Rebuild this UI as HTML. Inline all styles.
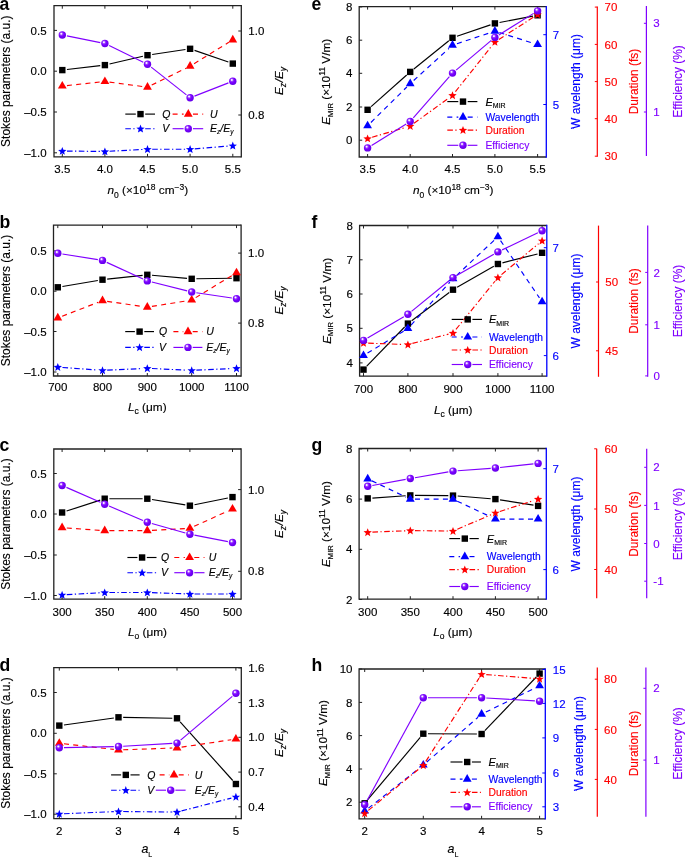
<!DOCTYPE html>
<html><head><meta charset="utf-8"><style>
html,body{margin:0;padding:0;background:#fff;}
svg{display:block;will-change:transform;}
</style></head><body>
<svg width="685" height="857" viewBox="0 0 685 857">
<defs><radialGradient id="sph" cx="0.4" cy="0.38" r="0.62" fx="0.36" fy="0.32"><stop offset="0" stop-color="#ffffff"/><stop offset="0.12" stop-color="#f4e8ff"/><stop offset="0.3" stop-color="#9a40ff"/><stop offset="0.55" stop-color="#7a00ff"/><stop offset="1" stop-color="#6400e8"/></radialGradient></defs>
<rect width="685" height="857" fill="#fff"/>
<g font-family='"Liberation Sans", sans-serif'>
<text x="-0.6" y="9.8" font-size="17.6" text-anchor="start" fill="#000" font-weight="bold">a</text>
<text x="-0.6" y="227.8" font-size="17.6" text-anchor="start" fill="#000" font-weight="bold">b</text>
<text x="-0.6" y="451.2" font-size="17.6" text-anchor="start" fill="#000" font-weight="bold">c</text>
<text x="-0.6" y="671.3" font-size="17.6" text-anchor="start" fill="#000" font-weight="bold">d</text>
<text x="311.4" y="9.8" font-size="17.6" text-anchor="start" fill="#000" font-weight="bold">e</text>
<text x="311.4" y="227.8" font-size="17.6" text-anchor="start" fill="#000" font-weight="bold">f</text>
<text x="311.4" y="451.2" font-size="17.6" text-anchor="start" fill="#000" font-weight="bold">g</text>
<text x="311.4" y="671.3" font-size="17.6" text-anchor="start" fill="#000" font-weight="bold">h</text>
<path d="M241.3,5.7 H54 V156.8 H241.3" fill="none" stroke="#222" stroke-width="1.3"/>
<line x1="241.3" y1="5.05" x2="241.3" y2="157.45" stroke="#222" stroke-width="1.3"/>
<line x1="62.3" y1="156.8" x2="62.3" y2="153.8" stroke="#222" stroke-width="1"/>
<line x1="62.3" y1="5.7" x2="62.3" y2="8.7" stroke="#222" stroke-width="1"/>
<text x="62.3" y="172.6" font-size="11.5" text-anchor="middle" fill="#000" stroke="#000" stroke-width="0.15">3.5</text>
<line x1="104.9" y1="156.8" x2="104.9" y2="153.8" stroke="#222" stroke-width="1"/>
<line x1="104.9" y1="5.7" x2="104.9" y2="8.7" stroke="#222" stroke-width="1"/>
<text x="104.9" y="172.6" font-size="11.5" text-anchor="middle" fill="#000" stroke="#000" stroke-width="0.15">4.0</text>
<line x1="147.5" y1="156.8" x2="147.5" y2="153.8" stroke="#222" stroke-width="1"/>
<line x1="147.5" y1="5.7" x2="147.5" y2="8.7" stroke="#222" stroke-width="1"/>
<text x="147.5" y="172.6" font-size="11.5" text-anchor="middle" fill="#000" stroke="#000" stroke-width="0.15">4.5</text>
<line x1="190.1" y1="156.8" x2="190.1" y2="153.8" stroke="#222" stroke-width="1"/>
<line x1="190.1" y1="5.7" x2="190.1" y2="8.7" stroke="#222" stroke-width="1"/>
<text x="190.1" y="172.6" font-size="11.5" text-anchor="middle" fill="#000" stroke="#000" stroke-width="0.15">5.0</text>
<line x1="232.8" y1="156.8" x2="232.8" y2="153.8" stroke="#222" stroke-width="1"/>
<line x1="232.8" y1="5.7" x2="232.8" y2="8.7" stroke="#222" stroke-width="1"/>
<text x="232.8" y="172.6" font-size="11.5" text-anchor="middle" fill="#000" stroke="#000" stroke-width="0.15">5.5</text>
<line x1="54" y1="30.4" x2="57" y2="30.4" stroke="#222" stroke-width="1"/>
<text x="46.6" y="34.5" font-size="11.5" text-anchor="end" fill="#000" stroke="#000" stroke-width="0.15">0.5</text>
<line x1="54" y1="71.2" x2="57" y2="71.2" stroke="#222" stroke-width="1"/>
<text x="46.6" y="75.3" font-size="11.5" text-anchor="end" fill="#000" stroke="#000" stroke-width="0.15">0.0</text>
<line x1="54" y1="112" x2="57" y2="112" stroke="#222" stroke-width="1"/>
<text x="46.6" y="116.1" font-size="11.5" text-anchor="end" fill="#000" stroke="#000" stroke-width="0.15">–0.5</text>
<line x1="54" y1="152.8" x2="57" y2="152.8" stroke="#222" stroke-width="1"/>
<text x="46.6" y="156.9" font-size="11.5" text-anchor="end" fill="#000" stroke="#000" stroke-width="0.15">–1.0</text>
<line x1="238.3" y1="31" x2="241.3" y2="31" stroke="#222" stroke-width="1"/>
<text x="248.3" y="35.1" font-size="11.5" text-anchor="start" fill="#000" stroke="#000" stroke-width="0.15">1.0</text>
<line x1="238.3" y1="115" x2="241.3" y2="115" stroke="#222" stroke-width="1"/>
<text x="248.3" y="119.1" font-size="11.5" text-anchor="start" fill="#000" stroke="#000" stroke-width="0.15">0.8</text>
<text x="10.1" y="81.2" font-size="11.95" text-anchor="middle" fill="#000" stroke="#000" stroke-width="0.15" transform="rotate(-90 10.1 81.2)">Stokes parameters (a.u.)</text>
<text stroke="#000" stroke-width="0.15" x="283.4" y="81" font-size="11.8" font-style="italic" text-anchor="middle" transform="rotate(-90 283.4 81)">E<tspan font-size="8.5" dy="2.6">z</tspan><tspan dx="0.7" dy="-2.6">/E</tspan><tspan font-size="8.5" dy="2.6">y</tspan></text>
<text stroke="#000" stroke-width="0.15" x="147.8" y="194.3" font-size="11.8" text-anchor="middle"><tspan font-style="italic">n</tspan><tspan font-size="8.5" dy="3.8">0</tspan><tspan dy="-3.8"> (×10</tspan><tspan font-size="8.5" dy="-4.8">18</tspan><tspan dy="4.8"> cm</tspan><tspan font-size="8.5" dy="-4.8">−3</tspan><tspan dy="4.8">)</tspan></text>
<line x1="66.97" y1="69.55" x2="100.23" y2="65.65" stroke="#000" stroke-width="1.15"/>
<line x1="109.48" y1="64.04" x2="142.92" y2="56.26" stroke="#000" stroke-width="1.15"/>
<line x1="152.15" y1="54.5" x2="185.45" y2="49.5" stroke="#000" stroke-width="1.15"/>
<line x1="194.54" y1="50.34" x2="228.36" y2="62.06" stroke="#000" stroke-width="1.15"/>
<line x1="66.97" y1="85.57" x2="100.23" y2="81.97" stroke="#ff0000" stroke-width="1.15" stroke-dasharray="5 4.3"/>
<line x1="109.56" y1="82.09" x2="142.84" y2="86.55" stroke="#ff0000" stroke-width="1.15" stroke-dasharray="5 4.3"/>
<line x1="151.72" y1="85.09" x2="185.88" y2="68.25" stroke="#ff0000" stroke-width="1.15" stroke-dasharray="5 4.3"/>
<line x1="194.1" y1="63.71" x2="228.8" y2="42.33" stroke="#ff0000" stroke-width="1.15" stroke-dasharray="5 4.3"/>
<line x1="67" y1="151.06" x2="100.2" y2="151.44" stroke="#0000ff" stroke-width="1.15" stroke-dasharray="5.6 2.4 1.3 2.5"/>
<line x1="109.59" y1="151.25" x2="142.81" y2="149.45" stroke="#0000ff" stroke-width="1.15" stroke-dasharray="5.6 2.4 1.3 2.5"/>
<line x1="152.2" y1="149.2" x2="185.4" y2="149.2" stroke="#0000ff" stroke-width="1.15" stroke-dasharray="5.6 2.4 1.3 2.5"/>
<line x1="194.78" y1="148.82" x2="228.12" y2="146.08" stroke="#0000ff" stroke-width="1.15" stroke-dasharray="5.6 2.4 1.3 2.5"/>
<line x1="66.91" y1="35.92" x2="100.29" y2="42.58" stroke="#8000ff" stroke-width="1.15"/>
<line x1="109.13" y1="45.55" x2="143.27" y2="62.15" stroke="#8000ff" stroke-width="1.15"/>
<line x1="151.19" y1="67.11" x2="186.41" y2="94.89" stroke="#8000ff" stroke-width="1.15"/>
<line x1="194.48" y1="96.1" x2="228.42" y2="82.9" stroke="#8000ff" stroke-width="1.15"/>
<rect x="59.1" y="66.9" width="6.4" height="6.4" fill="#000"/>
<rect x="101.7" y="61.9" width="6.4" height="6.4" fill="#000"/>
<rect x="144.3" y="52" width="6.4" height="6.4" fill="#000"/>
<rect x="186.9" y="45.6" width="6.4" height="6.4" fill="#000"/>
<rect x="229.6" y="60.4" width="6.4" height="6.4" fill="#000"/>
<polygon points="62.3,81 57.9,88.6 66.7,88.6" fill="#ff0000"/>
<polygon points="104.9,76.4 100.5,84 109.3,84" fill="#ff0000"/>
<polygon points="147.5,82.1 143.1,89.7 151.9,89.7" fill="#ff0000"/>
<polygon points="190.1,61.1 185.7,68.7 194.5,68.7" fill="#ff0000"/>
<polygon points="232.8,34.8 228.4,42.4 237.2,42.4" fill="#ff0000"/>
<polygon points="62.3,146.9 63.42,149.76 66.48,149.94 64.11,151.89 64.89,154.86 62.3,153.2 59.71,154.86 60.49,151.89 58.12,149.94 61.18,149.76" fill="#0000ff"/>
<polygon points="104.9,147.4 106.02,150.26 109.08,150.44 106.71,152.39 107.49,155.36 104.9,153.7 102.31,155.36 103.09,152.39 100.72,150.44 103.78,150.26" fill="#0000ff"/>
<polygon points="147.5,145.1 148.62,147.96 151.68,148.14 149.31,150.09 150.09,153.06 147.5,151.4 144.91,153.06 145.69,150.09 143.32,148.14 146.38,147.96" fill="#0000ff"/>
<polygon points="190.1,145.1 191.22,147.96 194.28,148.14 191.91,150.09 192.69,153.06 190.1,151.4 187.51,153.06 188.29,150.09 185.92,148.14 188.98,147.96" fill="#0000ff"/>
<polygon points="232.8,141.6 233.92,144.46 236.98,144.64 234.61,146.59 235.39,149.56 232.8,147.9 230.21,149.56 230.99,146.59 228.62,144.64 231.68,144.46" fill="#0000ff"/>
<circle cx="62.3" cy="35" r="3.7" fill="url(#sph)"/>
<circle cx="104.9" cy="43.5" r="3.7" fill="url(#sph)"/>
<circle cx="147.5" cy="64.2" r="3.7" fill="url(#sph)"/>
<circle cx="190.1" cy="97.8" r="3.7" fill="url(#sph)"/>
<circle cx="232.8" cy="81.2" r="3.7" fill="url(#sph)"/>
<line x1="125.3" y1="114.1" x2="135.8" y2="114.1" stroke="#000" stroke-width="1.15"/>
<line x1="145.2" y1="114.1" x2="155" y2="114.1" stroke="#000" stroke-width="1.15"/>
<rect x="137.3" y="110.9" width="6.4" height="6.4" fill="#000"/>
<text x="162.2" y="117.8" font-size="10.5" text-anchor="start" fill="#000" stroke="#000" stroke-width="0.15" font-style="italic">Q</text>
<line x1="125.3" y1="128.7" x2="135.8" y2="128.7" stroke="#0000ff" stroke-width="1.15" stroke-dasharray="5.6 2.4 1.3 2.5"/>
<line x1="145.2" y1="128.7" x2="155" y2="128.7" stroke="#0000ff" stroke-width="1.15" stroke-dasharray="5.6 2.4 1.3 2.5"/>
<polygon points="140.5,124.6 141.62,127.46 144.68,127.64 142.31,129.59 143.09,132.56 140.5,130.9 137.91,132.56 138.69,129.59 136.32,127.64 139.38,127.46" fill="#0000ff"/>
<text x="162.2" y="132.4" font-size="10.5" text-anchor="start" fill="#000" stroke="#000" stroke-width="0.15" font-style="italic">V</text>
<line x1="172.6" y1="114.1" x2="183.6" y2="114.1" stroke="#ff0000" stroke-width="1.15" stroke-dasharray="5 4.3"/>
<line x1="193" y1="114.1" x2="203.2" y2="114.1" stroke="#ff0000" stroke-width="1.15" stroke-dasharray="5 4.3"/>
<polygon points="188.3,109.03 183.9,116.63 192.7,116.63" fill="#ff0000"/>
<text x="210" y="117.8" font-size="10.5" text-anchor="start" fill="#000" stroke="#000" stroke-width="0.15" font-style="italic">U</text>
<line x1="172.6" y1="128.7" x2="183.6" y2="128.7" stroke="#8000ff" stroke-width="1.15"/>
<line x1="193" y1="128.7" x2="203.2" y2="128.7" stroke="#8000ff" stroke-width="1.15"/>
<circle cx="188.3" cy="128.7" r="3.7" fill="url(#sph)"/>
<text stroke="#000" stroke-width="0.15" x="210" y="132.4" font-size="10.5" font-style="italic">E<tspan font-size="6.5" dy="2">z</tspan><tspan dy="-2">/E</tspan><tspan font-size="6.5" dy="2">y</tspan></text>
<path d="M241.1,225.1 H53.5 V376 H241.1" fill="none" stroke="#222" stroke-width="1.3"/>
<line x1="241.1" y1="224.45" x2="241.1" y2="376.65" stroke="#222" stroke-width="1.3"/>
<line x1="57.8" y1="376" x2="57.8" y2="373" stroke="#222" stroke-width="1"/>
<line x1="57.8" y1="225.1" x2="57.8" y2="228.1" stroke="#222" stroke-width="1"/>
<text x="57.8" y="391.3" font-size="11.5" text-anchor="middle" fill="#000" stroke="#000" stroke-width="0.15">700</text>
<line x1="102.5" y1="376" x2="102.5" y2="373" stroke="#222" stroke-width="1"/>
<line x1="102.5" y1="225.1" x2="102.5" y2="228.1" stroke="#222" stroke-width="1"/>
<text x="102.5" y="391.3" font-size="11.5" text-anchor="middle" fill="#000" stroke="#000" stroke-width="0.15">800</text>
<line x1="147.3" y1="376" x2="147.3" y2="373" stroke="#222" stroke-width="1"/>
<line x1="147.3" y1="225.1" x2="147.3" y2="228.1" stroke="#222" stroke-width="1"/>
<text x="147.3" y="391.3" font-size="11.5" text-anchor="middle" fill="#000" stroke="#000" stroke-width="0.15">900</text>
<line x1="191.7" y1="376" x2="191.7" y2="373" stroke="#222" stroke-width="1"/>
<line x1="191.7" y1="225.1" x2="191.7" y2="228.1" stroke="#222" stroke-width="1"/>
<text x="191.7" y="391.3" font-size="11.5" text-anchor="middle" fill="#000" stroke="#000" stroke-width="0.15">1000</text>
<line x1="236.5" y1="376" x2="236.5" y2="373" stroke="#222" stroke-width="1"/>
<line x1="236.5" y1="225.1" x2="236.5" y2="228.1" stroke="#222" stroke-width="1"/>
<text x="236.5" y="391.3" font-size="11.5" text-anchor="middle" fill="#000" stroke="#000" stroke-width="0.15">1100</text>
<line x1="53.5" y1="250.9" x2="56.5" y2="250.9" stroke="#222" stroke-width="1"/>
<text x="46.6" y="255" font-size="11.5" text-anchor="end" fill="#000" stroke="#000" stroke-width="0.15">0.5</text>
<line x1="53.5" y1="291.2" x2="56.5" y2="291.2" stroke="#222" stroke-width="1"/>
<text x="46.6" y="295.3" font-size="11.5" text-anchor="end" fill="#000" stroke="#000" stroke-width="0.15">0.0</text>
<line x1="53.5" y1="331.5" x2="56.5" y2="331.5" stroke="#222" stroke-width="1"/>
<text x="46.6" y="335.6" font-size="11.5" text-anchor="end" fill="#000" stroke="#000" stroke-width="0.15">–0.5</text>
<line x1="53.5" y1="372" x2="56.5" y2="372" stroke="#222" stroke-width="1"/>
<text x="46.6" y="376.1" font-size="11.5" text-anchor="end" fill="#000" stroke="#000" stroke-width="0.15">–1.0</text>
<line x1="238.1" y1="253.1" x2="241.1" y2="253.1" stroke="#222" stroke-width="1"/>
<text x="248.1" y="257.2" font-size="11.5" text-anchor="start" fill="#000" stroke="#000" stroke-width="0.15">1.0</text>
<line x1="238.1" y1="323.1" x2="241.1" y2="323.1" stroke="#222" stroke-width="1"/>
<text x="248.1" y="327.2" font-size="11.5" text-anchor="start" fill="#000" stroke="#000" stroke-width="0.15">0.8</text>
<text x="10.1" y="300.5" font-size="11.95" text-anchor="middle" fill="#000" stroke="#000" stroke-width="0.15" transform="rotate(-90 10.1 300.5)">Stokes parameters (a.u.)</text>
<text stroke="#000" stroke-width="0.15" x="283.4" y="300.5" font-size="11.8" font-style="italic" text-anchor="middle" transform="rotate(-90 283.4 300.5)">E<tspan font-size="8.5" dy="2.6">z</tspan><tspan dx="0.7" dy="-2.6">/E</tspan><tspan font-size="8.5" dy="2.6">y</tspan></text>
<text stroke="#000" stroke-width="0.15" x="147.3" y="410.9" font-size="11.8" text-anchor="middle"><tspan font-style="italic">L</tspan><tspan font-size="8.5" dy="3.3">c</tspan><tspan dy="-3.3"> (μm)</tspan></text>
<line x1="62.43" y1="286.51" x2="97.87" y2="280.49" stroke="#000" stroke-width="1.15"/>
<line x1="107.17" y1="279.19" x2="142.63" y2="275.31" stroke="#000" stroke-width="1.15"/>
<line x1="151.98" y1="275.22" x2="187.02" y2="278.38" stroke="#000" stroke-width="1.15"/>
<line x1="196.4" y1="278.74" x2="231.8" y2="278.26" stroke="#000" stroke-width="1.15"/>
<line x1="62.19" y1="316.18" x2="98.11" y2="302.36" stroke="#ff0000" stroke-width="1.15" stroke-dasharray="5 4.3"/>
<line x1="107.15" y1="301.34" x2="142.65" y2="306.5" stroke="#ff0000" stroke-width="1.15" stroke-dasharray="5 4.3"/>
<line x1="151.94" y1="306.43" x2="187.06" y2="300.81" stroke="#ff0000" stroke-width="1.15" stroke-dasharray="5 4.3"/>
<line x1="195.71" y1="297.62" x2="232.49" y2="275.22" stroke="#ff0000" stroke-width="1.15" stroke-dasharray="5 4.3"/>
<line x1="62.49" y1="367.45" x2="97.81" y2="370.05" stroke="#0000ff" stroke-width="1.15" stroke-dasharray="5.6 2.4 1.3 2.5"/>
<line x1="107.19" y1="370.18" x2="142.61" y2="368.52" stroke="#0000ff" stroke-width="1.15" stroke-dasharray="5.6 2.4 1.3 2.5"/>
<line x1="151.99" y1="368.52" x2="187.01" y2="370.18" stroke="#0000ff" stroke-width="1.15" stroke-dasharray="5.6 2.4 1.3 2.5"/>
<line x1="196.39" y1="370.18" x2="231.81" y2="368.52" stroke="#0000ff" stroke-width="1.15" stroke-dasharray="5.6 2.4 1.3 2.5"/>
<line x1="62.44" y1="254.04" x2="97.86" y2="259.66" stroke="#8000ff" stroke-width="1.15"/>
<line x1="106.77" y1="262.36" x2="143.03" y2="278.94" stroke="#8000ff" stroke-width="1.15"/>
<line x1="151.86" y1="282.04" x2="187.14" y2="290.86" stroke="#8000ff" stroke-width="1.15"/>
<line x1="196.35" y1="292.7" x2="231.85" y2="298" stroke="#8000ff" stroke-width="1.15"/>
<rect x="54.6" y="284.1" width="6.4" height="6.4" fill="#000"/>
<rect x="99.3" y="276.5" width="6.4" height="6.4" fill="#000"/>
<rect x="144.1" y="271.6" width="6.4" height="6.4" fill="#000"/>
<rect x="188.5" y="275.6" width="6.4" height="6.4" fill="#000"/>
<rect x="233.3" y="275" width="6.4" height="6.4" fill="#000"/>
<polygon points="57.8,312.8 53.4,320.4 62.2,320.4" fill="#ff0000"/>
<polygon points="102.5,295.6 98.1,303.2 106.9,303.2" fill="#ff0000"/>
<polygon points="147.3,302.1 142.9,309.7 151.7,309.7" fill="#ff0000"/>
<polygon points="191.7,295 187.3,302.6 196.1,302.6" fill="#ff0000"/>
<polygon points="236.5,267.7 232.1,275.3 240.9,275.3" fill="#ff0000"/>
<polygon points="57.8,363 58.92,365.86 61.98,366.04 59.61,367.99 60.39,370.96 57.8,369.3 55.21,370.96 55.99,367.99 53.62,366.04 56.68,365.86" fill="#0000ff"/>
<polygon points="102.5,366.3 103.62,369.16 106.68,369.34 104.31,371.29 105.09,374.26 102.5,372.6 99.91,374.26 100.69,371.29 98.32,369.34 101.38,369.16" fill="#0000ff"/>
<polygon points="147.3,364.2 148.42,367.06 151.48,367.24 149.11,369.19 149.89,372.16 147.3,370.5 144.71,372.16 145.49,369.19 143.12,367.24 146.18,367.06" fill="#0000ff"/>
<polygon points="191.7,366.3 192.82,369.16 195.88,369.34 193.51,371.29 194.29,374.26 191.7,372.6 189.11,374.26 189.89,371.29 187.52,369.34 190.58,369.16" fill="#0000ff"/>
<polygon points="236.5,364.2 237.62,367.06 240.68,367.24 238.31,369.19 239.09,372.16 236.5,370.5 233.91,372.16 234.69,369.19 232.32,367.24 235.38,367.06" fill="#0000ff"/>
<circle cx="57.8" cy="253.3" r="3.7" fill="url(#sph)"/>
<circle cx="102.5" cy="260.4" r="3.7" fill="url(#sph)"/>
<circle cx="147.3" cy="280.9" r="3.7" fill="url(#sph)"/>
<circle cx="191.7" cy="292" r="3.7" fill="url(#sph)"/>
<circle cx="236.5" cy="298.7" r="3.7" fill="url(#sph)"/>
<line x1="125.2" y1="331.6" x2="134.9" y2="331.6" stroke="#000" stroke-width="1.15"/>
<line x1="144.3" y1="331.6" x2="154" y2="331.6" stroke="#000" stroke-width="1.15"/>
<rect x="136.4" y="328.4" width="6.4" height="6.4" fill="#000"/>
<text x="159" y="335.3" font-size="10.5" text-anchor="start" fill="#000" stroke="#000" stroke-width="0.15" font-style="italic">Q</text>
<line x1="125.2" y1="347.4" x2="134.9" y2="347.4" stroke="#0000ff" stroke-width="1.15" stroke-dasharray="5.6 2.4 1.3 2.5"/>
<line x1="144.3" y1="347.4" x2="154" y2="347.4" stroke="#0000ff" stroke-width="1.15" stroke-dasharray="5.6 2.4 1.3 2.5"/>
<polygon points="139.6,343.3 140.72,346.16 143.78,346.34 141.41,348.29 142.19,351.26 139.6,349.6 137.01,351.26 137.79,348.29 135.42,346.34 138.48,346.16" fill="#0000ff"/>
<text x="159" y="351.1" font-size="10.5" text-anchor="start" fill="#000" stroke="#000" stroke-width="0.15" font-style="italic">V</text>
<line x1="173.4" y1="331.6" x2="183.3" y2="331.6" stroke="#ff0000" stroke-width="1.15" stroke-dasharray="5 4.3"/>
<line x1="192.7" y1="331.6" x2="202.4" y2="331.6" stroke="#ff0000" stroke-width="1.15" stroke-dasharray="5 4.3"/>
<polygon points="188,326.53 183.6,334.13 192.4,334.13" fill="#ff0000"/>
<text x="206.3" y="335.3" font-size="10.5" text-anchor="start" fill="#000" stroke="#000" stroke-width="0.15" font-style="italic">U</text>
<line x1="173.4" y1="347.4" x2="183.3" y2="347.4" stroke="#8000ff" stroke-width="1.15"/>
<line x1="192.7" y1="347.4" x2="202.4" y2="347.4" stroke="#8000ff" stroke-width="1.15"/>
<circle cx="188" cy="347.4" r="3.7" fill="url(#sph)"/>
<text stroke="#000" stroke-width="0.15" x="206.3" y="351.1" font-size="10.5" font-style="italic">E<tspan font-size="6.5" dy="2">z</tspan><tspan dy="-2">/E</tspan><tspan font-size="6.5" dy="2">y</tspan></text>
<path d="M241.1,449 H53.8 V599.2 H241.1" fill="none" stroke="#222" stroke-width="1.3"/>
<line x1="241.1" y1="448.35" x2="241.1" y2="599.85" stroke="#222" stroke-width="1.3"/>
<line x1="62.1" y1="599.2" x2="62.1" y2="596.2" stroke="#222" stroke-width="1"/>
<line x1="62.1" y1="449" x2="62.1" y2="452" stroke="#222" stroke-width="1"/>
<text x="62.1" y="616.2" font-size="11.5" text-anchor="middle" fill="#000" stroke="#000" stroke-width="0.15">300</text>
<line x1="104.7" y1="599.2" x2="104.7" y2="596.2" stroke="#222" stroke-width="1"/>
<line x1="104.7" y1="449" x2="104.7" y2="452" stroke="#222" stroke-width="1"/>
<text x="104.7" y="616.2" font-size="11.5" text-anchor="middle" fill="#000" stroke="#000" stroke-width="0.15">350</text>
<line x1="147.3" y1="599.2" x2="147.3" y2="596.2" stroke="#222" stroke-width="1"/>
<line x1="147.3" y1="449" x2="147.3" y2="452" stroke="#222" stroke-width="1"/>
<text x="147.3" y="616.2" font-size="11.5" text-anchor="middle" fill="#000" stroke="#000" stroke-width="0.15">400</text>
<line x1="189.9" y1="599.2" x2="189.9" y2="596.2" stroke="#222" stroke-width="1"/>
<line x1="189.9" y1="449" x2="189.9" y2="452" stroke="#222" stroke-width="1"/>
<text x="189.9" y="616.2" font-size="11.5" text-anchor="middle" fill="#000" stroke="#000" stroke-width="0.15">450</text>
<line x1="232.5" y1="599.2" x2="232.5" y2="596.2" stroke="#222" stroke-width="1"/>
<line x1="232.5" y1="449" x2="232.5" y2="452" stroke="#222" stroke-width="1"/>
<text x="232.5" y="616.2" font-size="11.5" text-anchor="middle" fill="#000" stroke="#000" stroke-width="0.15">500</text>
<line x1="53.8" y1="473.5" x2="56.8" y2="473.5" stroke="#222" stroke-width="1"/>
<text x="46.6" y="477.6" font-size="11.5" text-anchor="end" fill="#000" stroke="#000" stroke-width="0.15">0.5</text>
<line x1="53.8" y1="514" x2="56.8" y2="514" stroke="#222" stroke-width="1"/>
<text x="46.6" y="518.1" font-size="11.5" text-anchor="end" fill="#000" stroke="#000" stroke-width="0.15">0.0</text>
<line x1="53.8" y1="555" x2="56.8" y2="555" stroke="#222" stroke-width="1"/>
<text x="46.6" y="559.1" font-size="11.5" text-anchor="end" fill="#000" stroke="#000" stroke-width="0.15">–0.5</text>
<line x1="53.8" y1="595.5" x2="56.8" y2="595.5" stroke="#222" stroke-width="1"/>
<text x="46.6" y="599.6" font-size="11.5" text-anchor="end" fill="#000" stroke="#000" stroke-width="0.15">–1.0</text>
<line x1="238.1" y1="489.6" x2="241.1" y2="489.6" stroke="#222" stroke-width="1"/>
<text x="248.1" y="493.7" font-size="11.5" text-anchor="start" fill="#000" stroke="#000" stroke-width="0.15">1.0</text>
<line x1="238.1" y1="571.3" x2="241.1" y2="571.3" stroke="#222" stroke-width="1"/>
<text x="248.1" y="575.4" font-size="11.5" text-anchor="start" fill="#000" stroke="#000" stroke-width="0.15">0.8</text>
<text x="10.1" y="524" font-size="11.95" text-anchor="middle" fill="#000" stroke="#000" stroke-width="0.15" transform="rotate(-90 10.1 524)">Stokes parameters (a.u.)</text>
<text stroke="#000" stroke-width="0.15" x="283.4" y="524" font-size="11.8" font-style="italic" text-anchor="middle" transform="rotate(-90 283.4 524)">E<tspan font-size="8.5" dy="2.6">z</tspan><tspan dx="0.7" dy="-2.6">/E</tspan><tspan font-size="8.5" dy="2.6">y</tspan></text>
<text stroke="#000" stroke-width="0.15" x="147.5" y="636" font-size="11.8" text-anchor="middle"><tspan font-style="italic">L</tspan><tspan font-size="8.5" dy="3.3">o</tspan><tspan dy="-3.3"> (μm)</tspan></text>
<line x1="66.57" y1="511.05" x2="100.23" y2="500.15" stroke="#000" stroke-width="1.15"/>
<line x1="109.4" y1="498.7" x2="142.6" y2="498.7" stroke="#000" stroke-width="1.15"/>
<line x1="151.94" y1="499.46" x2="185.26" y2="504.94" stroke="#000" stroke-width="1.15"/>
<line x1="194.51" y1="504.77" x2="227.89" y2="498.03" stroke="#000" stroke-width="1.15"/>
<line x1="66.79" y1="528" x2="100.01" y2="530.34" stroke="#ff0000" stroke-width="1.15" stroke-dasharray="5 4.3"/>
<line x1="109.4" y1="530.67" x2="142.6" y2="530.67" stroke="#ff0000" stroke-width="1.15" stroke-dasharray="5 4.3"/>
<line x1="151.99" y1="530.41" x2="185.21" y2="528.53" stroke="#ff0000" stroke-width="1.15" stroke-dasharray="5 4.3"/>
<line x1="194.18" y1="526.33" x2="228.22" y2="510.91" stroke="#ff0000" stroke-width="1.15" stroke-dasharray="5 4.3"/>
<line x1="66.79" y1="594.64" x2="100.01" y2="592.76" stroke="#0000ff" stroke-width="1.15" stroke-dasharray="5.6 2.4 1.3 2.5"/>
<line x1="109.4" y1="592.5" x2="142.6" y2="592.5" stroke="#0000ff" stroke-width="1.15" stroke-dasharray="5.6 2.4 1.3 2.5"/>
<line x1="152" y1="592.67" x2="185.2" y2="593.83" stroke="#0000ff" stroke-width="1.15" stroke-dasharray="5.6 2.4 1.3 2.5"/>
<line x1="194.6" y1="594" x2="227.8" y2="594" stroke="#0000ff" stroke-width="1.15" stroke-dasharray="5.6 2.4 1.3 2.5"/>
<line x1="66.4" y1="487.39" x2="100.4" y2="502.31" stroke="#8000ff" stroke-width="1.15"/>
<line x1="109.03" y1="506.04" x2="142.97" y2="520.46" stroke="#8000ff" stroke-width="1.15"/>
<line x1="151.83" y1="523.56" x2="185.37" y2="532.94" stroke="#8000ff" stroke-width="1.15"/>
<line x1="194.51" y1="535.1" x2="227.89" y2="541.6" stroke="#8000ff" stroke-width="1.15"/>
<rect x="58.9" y="509.3" width="6.4" height="6.4" fill="#000"/>
<rect x="101.5" y="495.5" width="6.4" height="6.4" fill="#000"/>
<rect x="144.1" y="495.5" width="6.4" height="6.4" fill="#000"/>
<rect x="186.7" y="502.5" width="6.4" height="6.4" fill="#000"/>
<rect x="229.3" y="493.9" width="6.4" height="6.4" fill="#000"/>
<polygon points="62.1,522.6 57.7,530.2 66.5,530.2" fill="#ff0000"/>
<polygon points="104.7,525.6 100.3,533.2 109.1,533.2" fill="#ff0000"/>
<polygon points="147.3,525.6 142.9,533.2 151.7,533.2" fill="#ff0000"/>
<polygon points="189.9,523.2 185.5,530.8 194.3,530.8" fill="#ff0000"/>
<polygon points="232.5,503.9 228.1,511.5 236.9,511.5" fill="#ff0000"/>
<polygon points="62.1,590.8 63.22,593.66 66.28,593.84 63.91,595.79 64.69,598.76 62.1,597.1 59.51,598.76 60.29,595.79 57.92,593.84 60.98,593.66" fill="#0000ff"/>
<polygon points="104.7,588.4 105.82,591.26 108.88,591.44 106.51,593.39 107.29,596.36 104.7,594.7 102.11,596.36 102.89,593.39 100.52,591.44 103.58,591.26" fill="#0000ff"/>
<polygon points="147.3,588.4 148.42,591.26 151.48,591.44 149.11,593.39 149.89,596.36 147.3,594.7 144.71,596.36 145.49,593.39 143.12,591.44 146.18,591.26" fill="#0000ff"/>
<polygon points="189.9,589.9 191.02,592.76 194.08,592.94 191.71,594.89 192.49,597.86 189.9,596.2 187.31,597.86 188.09,594.89 185.72,592.94 188.78,592.76" fill="#0000ff"/>
<polygon points="232.5,589.9 233.62,592.76 236.68,592.94 234.31,594.89 235.09,597.86 232.5,596.2 229.91,597.86 230.69,594.89 228.32,592.94 231.38,592.76" fill="#0000ff"/>
<circle cx="62.1" cy="485.5" r="3.7" fill="url(#sph)"/>
<circle cx="104.7" cy="504.2" r="3.7" fill="url(#sph)"/>
<circle cx="147.3" cy="522.3" r="3.7" fill="url(#sph)"/>
<circle cx="189.9" cy="534.2" r="3.7" fill="url(#sph)"/>
<circle cx="232.5" cy="542.5" r="3.7" fill="url(#sph)"/>
<line x1="127.4" y1="557.5" x2="137.4" y2="557.5" stroke="#000" stroke-width="1.15"/>
<line x1="146.8" y1="557.5" x2="156.5" y2="557.5" stroke="#000" stroke-width="1.15"/>
<rect x="138.9" y="554.3" width="6.4" height="6.4" fill="#000"/>
<text x="161" y="561.2" font-size="10.5" text-anchor="start" fill="#000" stroke="#000" stroke-width="0.15" font-style="italic">Q</text>
<line x1="127.4" y1="572.7" x2="137.4" y2="572.7" stroke="#0000ff" stroke-width="1.15" stroke-dasharray="5.6 2.4 1.3 2.5"/>
<line x1="146.8" y1="572.7" x2="156.5" y2="572.7" stroke="#0000ff" stroke-width="1.15" stroke-dasharray="5.6 2.4 1.3 2.5"/>
<polygon points="142.1,568.6 143.22,571.46 146.28,571.64 143.91,573.59 144.69,576.56 142.1,574.9 139.51,576.56 140.29,573.59 137.92,571.64 140.98,571.46" fill="#0000ff"/>
<text x="161" y="576.4" font-size="10.5" text-anchor="start" fill="#000" stroke="#000" stroke-width="0.15" font-style="italic">V</text>
<line x1="174.3" y1="557.5" x2="184.9" y2="557.5" stroke="#ff0000" stroke-width="1.15" stroke-dasharray="5 4.3"/>
<line x1="194.3" y1="557.5" x2="204.5" y2="557.5" stroke="#ff0000" stroke-width="1.15" stroke-dasharray="5 4.3"/>
<polygon points="189.6,552.43 185.2,560.03 194,560.03" fill="#ff0000"/>
<text x="208.8" y="561.2" font-size="10.5" text-anchor="start" fill="#000" stroke="#000" stroke-width="0.15" font-style="italic">U</text>
<line x1="174.3" y1="572.7" x2="184.9" y2="572.7" stroke="#8000ff" stroke-width="1.15"/>
<line x1="194.3" y1="572.7" x2="204.5" y2="572.7" stroke="#8000ff" stroke-width="1.15"/>
<circle cx="189.6" cy="572.7" r="3.7" fill="url(#sph)"/>
<text stroke="#000" stroke-width="0.15" x="208.8" y="576.4" font-size="10.5" font-style="italic">E<tspan font-size="6.5" dy="2">z</tspan><tspan dy="-2">/E</tspan><tspan font-size="6.5" dy="2">y</tspan></text>
<path d="M241.3,667.6 H53.8 V818.6 H241.3" fill="none" stroke="#222" stroke-width="1.3"/>
<line x1="241.3" y1="666.95" x2="241.3" y2="819.25" stroke="#222" stroke-width="1.3"/>
<line x1="59.3" y1="818.6" x2="59.3" y2="815.6" stroke="#222" stroke-width="1"/>
<line x1="59.3" y1="667.6" x2="59.3" y2="670.6" stroke="#222" stroke-width="1"/>
<text x="59.3" y="835" font-size="11.5" text-anchor="middle" fill="#000" stroke="#000" stroke-width="0.15">2</text>
<line x1="118.5" y1="818.6" x2="118.5" y2="815.6" stroke="#222" stroke-width="1"/>
<line x1="118.5" y1="667.6" x2="118.5" y2="670.6" stroke="#222" stroke-width="1"/>
<text x="118.5" y="835" font-size="11.5" text-anchor="middle" fill="#000" stroke="#000" stroke-width="0.15">3</text>
<line x1="177" y1="818.6" x2="177" y2="815.6" stroke="#222" stroke-width="1"/>
<line x1="177" y1="667.6" x2="177" y2="670.6" stroke="#222" stroke-width="1"/>
<text x="177" y="835" font-size="11.5" text-anchor="middle" fill="#000" stroke="#000" stroke-width="0.15">4</text>
<line x1="235.9" y1="818.6" x2="235.9" y2="815.6" stroke="#222" stroke-width="1"/>
<line x1="235.9" y1="667.6" x2="235.9" y2="670.6" stroke="#222" stroke-width="1"/>
<text x="235.9" y="835" font-size="11.5" text-anchor="middle" fill="#000" stroke="#000" stroke-width="0.15">5</text>
<line x1="53.8" y1="692.5" x2="56.8" y2="692.5" stroke="#222" stroke-width="1"/>
<text x="46.6" y="696.6" font-size="11.5" text-anchor="end" fill="#000" stroke="#000" stroke-width="0.15">0.5</text>
<line x1="53.8" y1="733.3" x2="56.8" y2="733.3" stroke="#222" stroke-width="1"/>
<text x="46.6" y="737.4" font-size="11.5" text-anchor="end" fill="#000" stroke="#000" stroke-width="0.15">0.0</text>
<line x1="53.8" y1="773.8" x2="56.8" y2="773.8" stroke="#222" stroke-width="1"/>
<text x="46.6" y="777.9" font-size="11.5" text-anchor="end" fill="#000" stroke="#000" stroke-width="0.15">–0.5</text>
<line x1="53.8" y1="814.2" x2="56.8" y2="814.2" stroke="#222" stroke-width="1"/>
<text x="46.6" y="818.3" font-size="11.5" text-anchor="end" fill="#000" stroke="#000" stroke-width="0.15">–1.0</text>
<line x1="238.3" y1="667.9" x2="241.3" y2="667.9" stroke="#222" stroke-width="1"/>
<text x="248.3" y="672" font-size="11.5" text-anchor="start" fill="#000" stroke="#000" stroke-width="0.15">1.6</text>
<line x1="238.3" y1="702.6" x2="241.3" y2="702.6" stroke="#222" stroke-width="1"/>
<text x="248.3" y="706.7" font-size="11.5" text-anchor="start" fill="#000" stroke="#000" stroke-width="0.15">1.3</text>
<line x1="238.3" y1="737.3" x2="241.3" y2="737.3" stroke="#222" stroke-width="1"/>
<text x="248.3" y="741.4" font-size="11.5" text-anchor="start" fill="#000" stroke="#000" stroke-width="0.15">1.0</text>
<line x1="238.3" y1="772.1" x2="241.3" y2="772.1" stroke="#222" stroke-width="1"/>
<text x="248.3" y="776.2" font-size="11.5" text-anchor="start" fill="#000" stroke="#000" stroke-width="0.15">0.7</text>
<line x1="238.3" y1="806.8" x2="241.3" y2="806.8" stroke="#222" stroke-width="1"/>
<text x="248.3" y="810.9" font-size="11.5" text-anchor="start" fill="#000" stroke="#000" stroke-width="0.15">0.4</text>
<text x="10.1" y="743" font-size="11.95" text-anchor="middle" fill="#000" stroke="#000" stroke-width="0.15" transform="rotate(-90 10.1 743)">Stokes parameters (a.u.)</text>
<text stroke="#000" stroke-width="0.15" x="283.4" y="743" font-size="11.8" font-style="italic" text-anchor="middle" transform="rotate(-90 283.4 743)">E<tspan font-size="8.5" dy="2.6">z</tspan><tspan dx="0.7" dy="-2.6">/E</tspan><tspan font-size="8.5" dy="2.6">y</tspan></text>
<text stroke="#000" stroke-width="0.15" x="146.8" y="852.8" font-size="11.8" text-anchor="middle"><tspan font-style="italic" font-size="12.4">a</tspan><tspan font-size="7" dy="4.3">L</tspan></text>
<line x1="63.95" y1="724.95" x2="113.85" y2="717.95" stroke="#000" stroke-width="1.15"/>
<line x1="123.2" y1="717.38" x2="172.3" y2="718.22" stroke="#000" stroke-width="1.15"/>
<line x1="180.14" y1="721.8" x2="232.76" y2="780.5" stroke="#000" stroke-width="1.15"/>
<line x1="63.97" y1="743.8" x2="113.83" y2="749.44" stroke="#ff0000" stroke-width="1.15" stroke-dasharray="5 4.3"/>
<line x1="123.2" y1="749.8" x2="172.3" y2="748.04" stroke="#ff0000" stroke-width="1.15" stroke-dasharray="5 4.3"/>
<line x1="181.65" y1="747.18" x2="231.25" y2="739.76" stroke="#ff0000" stroke-width="1.15" stroke-dasharray="5 4.3"/>
<line x1="64" y1="813.71" x2="113.8" y2="811.69" stroke="#0000ff" stroke-width="1.15" stroke-dasharray="5.6 2.4 1.3 2.5"/>
<line x1="123.2" y1="811.55" x2="172.3" y2="812.05" stroke="#0000ff" stroke-width="1.15" stroke-dasharray="5.6 2.4 1.3 2.5"/>
<line x1="181.55" y1="810.93" x2="231.35" y2="798.07" stroke="#0000ff" stroke-width="1.15" stroke-dasharray="5.6 2.4 1.3 2.5"/>
<line x1="64" y1="747.6" x2="113.8" y2="746.6" stroke="#8000ff" stroke-width="1.15"/>
<line x1="123.19" y1="746.23" x2="172.31" y2="743.37" stroke="#8000ff" stroke-width="1.15"/>
<line x1="180.59" y1="740.07" x2="232.31" y2="696.33" stroke="#8000ff" stroke-width="1.15"/>
<rect x="56.1" y="722.4" width="6.4" height="6.4" fill="#000"/>
<rect x="115.3" y="714.1" width="6.4" height="6.4" fill="#000"/>
<rect x="173.8" y="715.1" width="6.4" height="6.4" fill="#000"/>
<rect x="232.7" y="780.8" width="6.4" height="6.4" fill="#000"/>
<polygon points="59.3,738.2 54.9,745.8 63.7,745.8" fill="#ff0000"/>
<polygon points="118.5,744.9 114.1,752.5 122.9,752.5" fill="#ff0000"/>
<polygon points="177,742.8 172.6,750.4 181.4,750.4" fill="#ff0000"/>
<polygon points="235.9,734 231.5,741.6 240.3,741.6" fill="#ff0000"/>
<polygon points="59.3,809.8 60.42,812.66 63.48,812.84 61.11,814.79 61.89,817.76 59.3,816.1 56.71,817.76 57.49,814.79 55.12,812.84 58.18,812.66" fill="#0000ff"/>
<polygon points="118.5,807.4 119.62,810.26 122.68,810.44 120.31,812.39 121.09,815.36 118.5,813.7 115.91,815.36 116.69,812.39 114.32,810.44 117.38,810.26" fill="#0000ff"/>
<polygon points="177,808 178.12,810.86 181.18,811.04 178.81,812.99 179.59,815.96 177,814.3 174.41,815.96 175.19,812.99 172.82,811.04 175.88,810.86" fill="#0000ff"/>
<polygon points="235.9,792.8 237.02,795.66 240.08,795.84 237.71,797.79 238.49,800.76 235.9,799.1 233.31,800.76 234.09,797.79 231.72,795.84 234.78,795.66" fill="#0000ff"/>
<circle cx="59.3" cy="747.7" r="3.7" fill="url(#sph)"/>
<circle cx="118.5" cy="746.5" r="3.7" fill="url(#sph)"/>
<circle cx="177" cy="743.1" r="3.7" fill="url(#sph)"/>
<circle cx="235.9" cy="693.3" r="3.7" fill="url(#sph)"/>
<line x1="111.1" y1="774.9" x2="121.1" y2="774.9" stroke="#000" stroke-width="1.15"/>
<line x1="130.5" y1="774.9" x2="139.6" y2="774.9" stroke="#000" stroke-width="1.15"/>
<rect x="122.6" y="771.7" width="6.4" height="6.4" fill="#000"/>
<text x="147.3" y="778.6" font-size="10.5" text-anchor="start" fill="#000" stroke="#000" stroke-width="0.15" font-style="italic">Q</text>
<line x1="111.1" y1="790.2" x2="121.1" y2="790.2" stroke="#0000ff" stroke-width="1.15" stroke-dasharray="5.6 2.4 1.3 2.5"/>
<line x1="130.5" y1="790.2" x2="139.6" y2="790.2" stroke="#0000ff" stroke-width="1.15" stroke-dasharray="5.6 2.4 1.3 2.5"/>
<polygon points="125.8,786.1 126.92,788.96 129.98,789.14 127.61,791.09 128.39,794.06 125.8,792.4 123.21,794.06 123.99,791.09 121.62,789.14 124.68,788.96" fill="#0000ff"/>
<text x="147.3" y="793.9" font-size="10.5" text-anchor="start" fill="#000" stroke="#000" stroke-width="0.15" font-style="italic">V</text>
<line x1="159.6" y1="774.9" x2="169.3" y2="774.9" stroke="#ff0000" stroke-width="1.15" stroke-dasharray="5 4.3"/>
<line x1="178.7" y1="774.9" x2="188.7" y2="774.9" stroke="#ff0000" stroke-width="1.15" stroke-dasharray="5 4.3"/>
<polygon points="174,769.83 169.6,777.43 178.4,777.43" fill="#ff0000"/>
<text x="194.8" y="778.6" font-size="10.5" text-anchor="start" fill="#000" stroke="#000" stroke-width="0.15" font-style="italic">U</text>
<line x1="155.8" y1="790.2" x2="166" y2="790.2" stroke="#8000ff" stroke-width="1.15"/>
<line x1="175.4" y1="790.2" x2="185.6" y2="790.2" stroke="#8000ff" stroke-width="1.15"/>
<circle cx="170.7" cy="790.2" r="3.7" fill="url(#sph)"/>
<text stroke="#000" stroke-width="0.15" x="194.8" y="793.9" font-size="10.5" font-style="italic">E<tspan font-size="6.5" dy="2">z</tspan><tspan dy="-2">/E</tspan><tspan font-size="6.5" dy="2">y</tspan></text>
<path d="M546.3,6.6 H359.2 V157 H546.3" fill="none" stroke="#222" stroke-width="1.3"/>
<line x1="546.3" y1="5.95" x2="546.3" y2="157.65" stroke="#0000ff" stroke-width="1.3"/>
<line x1="367.6" y1="157" x2="367.6" y2="154" stroke="#222" stroke-width="1"/>
<line x1="367.6" y1="6.6" x2="367.6" y2="9.6" stroke="#222" stroke-width="1"/>
<text x="367.6" y="172.9" font-size="11.5" text-anchor="middle" fill="#000" stroke="#000" stroke-width="0.15">3.5</text>
<line x1="410.2" y1="157" x2="410.2" y2="154" stroke="#222" stroke-width="1"/>
<line x1="410.2" y1="6.6" x2="410.2" y2="9.6" stroke="#222" stroke-width="1"/>
<text x="410.2" y="172.9" font-size="11.5" text-anchor="middle" fill="#000" stroke="#000" stroke-width="0.15">4.0</text>
<line x1="452.5" y1="157" x2="452.5" y2="154" stroke="#222" stroke-width="1"/>
<line x1="452.5" y1="6.6" x2="452.5" y2="9.6" stroke="#222" stroke-width="1"/>
<text x="452.5" y="172.9" font-size="11.5" text-anchor="middle" fill="#000" stroke="#000" stroke-width="0.15">4.5</text>
<line x1="494.9" y1="157" x2="494.9" y2="154" stroke="#222" stroke-width="1"/>
<line x1="494.9" y1="6.6" x2="494.9" y2="9.6" stroke="#222" stroke-width="1"/>
<text x="494.9" y="172.9" font-size="11.5" text-anchor="middle" fill="#000" stroke="#000" stroke-width="0.15">5.0</text>
<line x1="537.6" y1="157" x2="537.6" y2="154" stroke="#222" stroke-width="1"/>
<line x1="537.6" y1="6.6" x2="537.6" y2="9.6" stroke="#222" stroke-width="1"/>
<text x="537.6" y="172.9" font-size="11.5" text-anchor="middle" fill="#000" stroke="#000" stroke-width="0.15">5.5</text>
<line x1="359.2" y1="6.9" x2="362.2" y2="6.9" stroke="#222" stroke-width="1"/>
<text x="352.5" y="11" font-size="11.5" text-anchor="end" fill="#000" stroke="#000" stroke-width="0.15">8</text>
<line x1="359.2" y1="40.2" x2="362.2" y2="40.2" stroke="#222" stroke-width="1"/>
<text x="352.5" y="44.3" font-size="11.5" text-anchor="end" fill="#000" stroke="#000" stroke-width="0.15">6</text>
<line x1="359.2" y1="73.3" x2="362.2" y2="73.3" stroke="#222" stroke-width="1"/>
<text x="352.5" y="77.4" font-size="11.5" text-anchor="end" fill="#000" stroke="#000" stroke-width="0.15">4</text>
<line x1="359.2" y1="107" x2="362.2" y2="107" stroke="#222" stroke-width="1"/>
<text x="352.5" y="111.1" font-size="11.5" text-anchor="end" fill="#000" stroke="#000" stroke-width="0.15">2</text>
<line x1="359.2" y1="140.2" x2="362.2" y2="140.2" stroke="#222" stroke-width="1"/>
<text x="352.5" y="144.3" font-size="11.5" text-anchor="end" fill="#000" stroke="#000" stroke-width="0.15">0</text>
<line x1="543.3" y1="34.7" x2="546.3" y2="34.7" stroke="#0000ff" stroke-width="1"/>
<text x="552.8" y="38.8" font-size="11.5" text-anchor="start" fill="#0000ff" stroke="#0000ff" stroke-width="0.15">7</text>
<line x1="543.3" y1="104.5" x2="546.3" y2="104.5" stroke="#0000ff" stroke-width="1"/>
<text x="552.8" y="108.6" font-size="11.5" text-anchor="start" fill="#0000ff" stroke="#0000ff" stroke-width="0.15">5</text>
<text stroke="#000" stroke-width="0.15" x="330.2" y="81.8" font-size="11.8" text-anchor="middle" transform="rotate(-90 330.2 81.8)"><tspan font-style="italic">E</tspan><tspan font-size="7.6" dy="2.9">MIR</tspan><tspan dy="-2.9"> (×10</tspan><tspan font-size="8.5" dy="-4.8">11</tspan><tspan dy="4.8"> V/m)</tspan></text>
<text stroke="#000" stroke-width="0.15" x="453.2" y="194.3" font-size="11.8" text-anchor="middle"><tspan font-style="italic">n</tspan><tspan font-size="8.5" dy="3.8">0</tspan><tspan dy="-3.8"> (×10</tspan><tspan font-size="8.5" dy="-4.8">18</tspan><tspan dy="4.8"> cm</tspan><tspan font-size="8.5" dy="-4.8">−3</tspan><tspan dy="4.8">)</tspan></text>
<line x1="597.3" y1="6.5" x2="597.3" y2="156.8" stroke="#ff0000" stroke-width="1.2"/>
<line x1="594.8" y1="7.1" x2="597.3" y2="7.1" stroke="#ff0000" stroke-width="1"/>
<text x="604.6" y="11.2" font-size="11.5" text-anchor="start" fill="#ff0000" stroke="#ff0000" stroke-width="0.15">70</text>
<line x1="594.8" y1="44.4" x2="597.3" y2="44.4" stroke="#ff0000" stroke-width="1"/>
<text x="604.6" y="48.5" font-size="11.5" text-anchor="start" fill="#ff0000" stroke="#ff0000" stroke-width="0.15">60</text>
<line x1="594.8" y1="81.6" x2="597.3" y2="81.6" stroke="#ff0000" stroke-width="1"/>
<text x="604.6" y="85.7" font-size="11.5" text-anchor="start" fill="#ff0000" stroke="#ff0000" stroke-width="0.15">50</text>
<line x1="594.8" y1="118.7" x2="597.3" y2="118.7" stroke="#ff0000" stroke-width="1"/>
<text x="604.6" y="122.8" font-size="11.5" text-anchor="start" fill="#ff0000" stroke="#ff0000" stroke-width="0.15">40</text>
<line x1="594.8" y1="156.2" x2="597.3" y2="156.2" stroke="#ff0000" stroke-width="1"/>
<text x="604.6" y="160.3" font-size="11.5" text-anchor="start" fill="#ff0000" stroke="#ff0000" stroke-width="0.15">30</text>
<line x1="646.4" y1="6" x2="646.4" y2="156" stroke="#8000ff" stroke-width="1.2"/>
<line x1="643.9" y1="23.3" x2="646.4" y2="23.3" stroke="#8000ff" stroke-width="1"/>
<text x="653.2" y="27.4" font-size="11.5" text-anchor="start" fill="#8000ff" stroke="#8000ff" stroke-width="0.15">3</text>
<line x1="643.9" y1="112" x2="646.4" y2="112" stroke="#8000ff" stroke-width="1"/>
<text x="653.2" y="116.1" font-size="11.5" text-anchor="start" fill="#8000ff" stroke="#8000ff" stroke-width="0.15">1</text>
<text x="579.6" y="81.5" font-size="12" text-anchor="middle" fill="#0000ff" stroke="#0000ff" stroke-width="0.15" transform="rotate(-90 579.6 81.5)">W avelength (μm)</text>
<text x="637.5" y="81.5" font-size="11.9" text-anchor="middle" fill="#ff0000" stroke="#ff0000" stroke-width="0.15" transform="rotate(-90 637.5 81.5)">Duration (fs)</text>
<text x="682.2" y="81.5" font-size="11.9" text-anchor="middle" fill="#8000ff" stroke="#8000ff" stroke-width="0.15" transform="rotate(-90 682.2 81.5)">Efficiency (%)</text>
<line x1="371.11" y1="106.68" x2="406.69" y2="75.02" stroke="#000" stroke-width="1.15"/>
<line x1="413.86" y1="68.95" x2="448.84" y2="40.75" stroke="#000" stroke-width="1.15"/>
<line x1="456.95" y1="36.29" x2="490.45" y2="24.91" stroke="#000" stroke-width="1.15"/>
<line x1="499.52" y1="22.52" x2="532.98" y2="16.18" stroke="#000" stroke-width="1.15"/>
<line x1="370.94" y1="122.47" x2="406.86" y2="86.97" stroke="#0000ff" stroke-width="1.15" stroke-dasharray="5 4.3"/>
<line x1="413.68" y1="80.51" x2="449.02" y2="48.33" stroke="#0000ff" stroke-width="1.15" stroke-dasharray="5 4.3"/>
<line x1="456.96" y1="43.7" x2="490.44" y2="32.64" stroke="#0000ff" stroke-width="1.15" stroke-dasharray="5 4.3"/>
<line x1="499.38" y1="32.58" x2="533.12" y2="43.16" stroke="#0000ff" stroke-width="1.15" stroke-dasharray="5 4.3"/>
<line x1="372.11" y1="137.19" x2="405.69" y2="127.41" stroke="#ff0000" stroke-width="1.15" stroke-dasharray="5.6 2.4 1.3 2.5"/>
<line x1="414" y1="123.33" x2="448.7" y2="98.07" stroke="#ff0000" stroke-width="1.15" stroke-dasharray="5.6 2.4 1.3 2.5"/>
<line x1="455.43" y1="91.62" x2="491.97" y2="45.68" stroke="#ff0000" stroke-width="1.15" stroke-dasharray="5.6 2.4 1.3 2.5"/>
<line x1="498.85" y1="39.46" x2="533.65" y2="17.04" stroke="#ff0000" stroke-width="1.15" stroke-dasharray="5.6 2.4 1.3 2.5"/>
<line x1="371.6" y1="145.42" x2="406.2" y2="123.98" stroke="#8000ff" stroke-width="1.15"/>
<line x1="413.29" y1="117.96" x2="449.41" y2="76.64" stroke="#8000ff" stroke-width="1.15"/>
<line x1="456.1" y1="70.07" x2="491.3" y2="40.43" stroke="#8000ff" stroke-width="1.15"/>
<line x1="498.89" y1="34.92" x2="533.61" y2="13.38" stroke="#8000ff" stroke-width="1.15"/>
<rect x="364.4" y="106.6" width="6.4" height="6.4" fill="#000"/>
<rect x="407" y="68.7" width="6.4" height="6.4" fill="#000"/>
<rect x="449.3" y="34.6" width="6.4" height="6.4" fill="#000"/>
<rect x="491.7" y="20.2" width="6.4" height="6.4" fill="#000"/>
<rect x="534.4" y="12.1" width="6.4" height="6.4" fill="#000"/>
<polygon points="367.6,120.7 363.2,128.3 372,128.3" fill="#0000ff"/>
<polygon points="410.2,78.6 405.8,86.2 414.6,86.2" fill="#0000ff"/>
<polygon points="452.5,40.1 448.1,47.7 456.9,47.7" fill="#0000ff"/>
<polygon points="494.9,26.1 490.5,33.7 499.3,33.7" fill="#0000ff"/>
<polygon points="537.6,39.5 533.2,47.1 542,47.1" fill="#0000ff"/>
<polygon points="367.6,134.4 368.72,137.26 371.78,137.44 369.41,139.39 370.19,142.36 367.6,140.7 365.01,142.36 365.79,139.39 363.42,137.44 366.48,137.26" fill="#ff0000"/>
<polygon points="410.2,122 411.32,124.86 414.38,125.04 412.01,126.99 412.79,129.96 410.2,128.3 407.61,129.96 408.39,126.99 406.02,125.04 409.08,124.86" fill="#ff0000"/>
<polygon points="452.5,91.2 453.62,94.06 456.68,94.24 454.31,96.19 455.09,99.16 452.5,97.5 449.91,99.16 450.69,96.19 448.32,94.24 451.38,94.06" fill="#ff0000"/>
<polygon points="494.9,37.9 496.02,40.76 499.08,40.94 496.71,42.89 497.49,45.86 494.9,44.2 492.31,45.86 493.09,42.89 490.72,40.94 493.78,40.76" fill="#ff0000"/>
<polygon points="537.6,10.4 538.72,13.26 541.78,13.44 539.41,15.39 540.19,18.36 537.6,16.7 535.01,18.36 535.79,15.39 533.42,13.44 536.48,13.26" fill="#ff0000"/>
<circle cx="367.6" cy="147.9" r="3.7" fill="url(#sph)"/>
<circle cx="410.2" cy="121.5" r="3.7" fill="url(#sph)"/>
<circle cx="452.5" cy="73.1" r="3.7" fill="url(#sph)"/>
<circle cx="494.9" cy="37.4" r="3.7" fill="url(#sph)"/>
<circle cx="537.6" cy="10.9" r="3.7" fill="url(#sph)"/>
<line x1="447.3" y1="101.6" x2="458.3" y2="101.6" stroke="#000" stroke-width="1.15"/>
<line x1="467.7" y1="101.6" x2="477.4" y2="101.6" stroke="#000" stroke-width="1.15"/>
<rect x="459.8" y="98.4" width="6.4" height="6.4" fill="#000"/>
<text stroke="#000" stroke-width="0.15" x="485.5" y="105.5" font-size="11" font-style="italic">E<tspan font-size="7" font-style="normal" dy="2.5">MIR</tspan></text>
<line x1="447.3" y1="117.1" x2="458.3" y2="117.1" stroke="#0000ff" stroke-width="1.15" stroke-dasharray="5 4.3"/>
<line x1="467.7" y1="117.1" x2="477.4" y2="117.1" stroke="#0000ff" stroke-width="1.15" stroke-dasharray="5 4.3"/>
<polygon points="463,112.03 458.6,119.63 467.4,119.63" fill="#0000ff"/>
<text x="485.5" y="120.7" font-size="10.3" text-anchor="start" fill="#0000ff" stroke="#0000ff" stroke-width="0.15">Wavelength</text>
<line x1="447.3" y1="130.1" x2="458.3" y2="130.1" stroke="#ff0000" stroke-width="1.15" stroke-dasharray="5.6 2.4 1.3 2.5"/>
<line x1="467.7" y1="130.1" x2="477.4" y2="130.1" stroke="#ff0000" stroke-width="1.15" stroke-dasharray="5.6 2.4 1.3 2.5"/>
<polygon points="463,126 464.12,128.86 467.18,129.04 464.81,130.99 465.59,133.96 463,132.3 460.41,133.96 461.19,130.99 458.82,129.04 461.88,128.86" fill="#ff0000"/>
<text x="485.5" y="133.7" font-size="10.3" text-anchor="start" fill="#ff0000" stroke="#ff0000" stroke-width="0.15">Duration</text>
<line x1="447.3" y1="145.3" x2="458.3" y2="145.3" stroke="#8000ff" stroke-width="1.15"/>
<line x1="467.7" y1="145.3" x2="477.4" y2="145.3" stroke="#8000ff" stroke-width="1.15"/>
<circle cx="463" cy="145.3" r="3.7" fill="url(#sph)"/>
<text x="485.5" y="148.9" font-size="10.3" text-anchor="start" fill="#8000ff" stroke="#8000ff" stroke-width="0.15">Efficiency</text>
<path d="M546.8,225.5 H359.6 V376.1 H546.8" fill="none" stroke="#222" stroke-width="1.3"/>
<line x1="546.8" y1="224.85" x2="546.8" y2="376.75" stroke="#0000ff" stroke-width="1.3"/>
<line x1="363.5" y1="376.1" x2="363.5" y2="373.1" stroke="#222" stroke-width="1"/>
<line x1="363.5" y1="225.5" x2="363.5" y2="228.5" stroke="#222" stroke-width="1"/>
<text x="363.5" y="393" font-size="11.5" text-anchor="middle" fill="#000" stroke="#000" stroke-width="0.15">700</text>
<line x1="407.9" y1="376.1" x2="407.9" y2="373.1" stroke="#222" stroke-width="1"/>
<line x1="407.9" y1="225.5" x2="407.9" y2="228.5" stroke="#222" stroke-width="1"/>
<text x="407.9" y="393" font-size="11.5" text-anchor="middle" fill="#000" stroke="#000" stroke-width="0.15">800</text>
<line x1="453" y1="376.1" x2="453" y2="373.1" stroke="#222" stroke-width="1"/>
<line x1="453" y1="225.5" x2="453" y2="228.5" stroke="#222" stroke-width="1"/>
<text x="453" y="393" font-size="11.5" text-anchor="middle" fill="#000" stroke="#000" stroke-width="0.15">900</text>
<line x1="497.9" y1="376.1" x2="497.9" y2="373.1" stroke="#222" stroke-width="1"/>
<line x1="497.9" y1="225.5" x2="497.9" y2="228.5" stroke="#222" stroke-width="1"/>
<text x="497.9" y="393" font-size="11.5" text-anchor="middle" fill="#000" stroke="#000" stroke-width="0.15">1000</text>
<line x1="542.1" y1="376.1" x2="542.1" y2="373.1" stroke="#222" stroke-width="1"/>
<line x1="542.1" y1="225.5" x2="542.1" y2="228.5" stroke="#222" stroke-width="1"/>
<text x="542.1" y="393" font-size="11.5" text-anchor="middle" fill="#000" stroke="#000" stroke-width="0.15">1100</text>
<line x1="359.6" y1="225.5" x2="362.6" y2="225.5" stroke="#222" stroke-width="1"/>
<text x="352.9" y="229.6" font-size="11.5" text-anchor="end" fill="#000" stroke="#000" stroke-width="0.15">8</text>
<line x1="359.6" y1="259.8" x2="362.6" y2="259.8" stroke="#222" stroke-width="1"/>
<text x="352.9" y="263.9" font-size="11.5" text-anchor="end" fill="#000" stroke="#000" stroke-width="0.15">7</text>
<line x1="359.6" y1="294" x2="362.6" y2="294" stroke="#222" stroke-width="1"/>
<text x="352.9" y="298.1" font-size="11.5" text-anchor="end" fill="#000" stroke="#000" stroke-width="0.15">6</text>
<line x1="359.6" y1="328.3" x2="362.6" y2="328.3" stroke="#222" stroke-width="1"/>
<text x="352.9" y="332.4" font-size="11.5" text-anchor="end" fill="#000" stroke="#000" stroke-width="0.15">5</text>
<line x1="359.6" y1="362.9" x2="362.6" y2="362.9" stroke="#222" stroke-width="1"/>
<text x="352.9" y="367" font-size="11.5" text-anchor="end" fill="#000" stroke="#000" stroke-width="0.15">4</text>
<line x1="543.8" y1="247.7" x2="546.8" y2="247.7" stroke="#0000ff" stroke-width="1"/>
<text x="552.5" y="251.8" font-size="11.5" text-anchor="start" fill="#0000ff" stroke="#0000ff" stroke-width="0.15">7</text>
<line x1="543.8" y1="355.6" x2="546.8" y2="355.6" stroke="#0000ff" stroke-width="1"/>
<text x="552.5" y="359.7" font-size="11.5" text-anchor="start" fill="#0000ff" stroke="#0000ff" stroke-width="0.15">6</text>
<text stroke="#000" stroke-width="0.15" x="330.6" y="300.8" font-size="11.8" text-anchor="middle" transform="rotate(-90 330.6 300.8)"><tspan font-style="italic">E</tspan><tspan font-size="7.6" dy="2.9">MIR</tspan><tspan dy="-2.9"> (×10</tspan><tspan font-size="8.5" dy="-4.8">11</tspan><tspan dy="4.8"> V/m)</tspan></text>
<text stroke="#000" stroke-width="0.15" x="453.2" y="413.8" font-size="11.8" text-anchor="middle"><tspan font-style="italic">L</tspan><tspan font-size="8.5" dy="3.3">c</tspan><tspan dy="-3.3"> (μm)</tspan></text>
<line x1="598.5" y1="225.6" x2="598.5" y2="376.8" stroke="#ff0000" stroke-width="1.2"/>
<line x1="596" y1="282" x2="598.5" y2="282" stroke="#ff0000" stroke-width="1"/>
<text x="605.3" y="286.1" font-size="11.5" text-anchor="start" fill="#ff0000" stroke="#ff0000" stroke-width="0.15">50</text>
<line x1="596" y1="350.8" x2="598.5" y2="350.8" stroke="#ff0000" stroke-width="1"/>
<text x="605.3" y="354.9" font-size="11.5" text-anchor="start" fill="#ff0000" stroke="#ff0000" stroke-width="0.15">45</text>
<line x1="647.7" y1="225.6" x2="647.7" y2="376.8" stroke="#8000ff" stroke-width="1.2"/>
<line x1="645.2" y1="272.4" x2="647.7" y2="272.4" stroke="#8000ff" stroke-width="1"/>
<text x="653.4" y="276.5" font-size="11.5" text-anchor="start" fill="#8000ff" stroke="#8000ff" stroke-width="0.15">2</text>
<line x1="645.2" y1="324.8" x2="647.7" y2="324.8" stroke="#8000ff" stroke-width="1"/>
<text x="653.4" y="328.9" font-size="11.5" text-anchor="start" fill="#8000ff" stroke="#8000ff" stroke-width="0.15">1</text>
<line x1="645.2" y1="375.9" x2="647.7" y2="375.9" stroke="#8000ff" stroke-width="1"/>
<text x="653.4" y="380" font-size="11.5" text-anchor="start" fill="#8000ff" stroke="#8000ff" stroke-width="0.15">0</text>
<text x="579.6" y="301" font-size="12" text-anchor="middle" fill="#0000ff" stroke="#0000ff" stroke-width="0.15" transform="rotate(-90 579.6 301)">W avelength (μm)</text>
<text x="637.5" y="301" font-size="11.9" text-anchor="middle" fill="#ff0000" stroke="#ff0000" stroke-width="0.15" transform="rotate(-90 637.5 301)">Duration (fs)</text>
<text x="682.2" y="301" font-size="11.9" text-anchor="middle" fill="#8000ff" stroke="#8000ff" stroke-width="0.15" transform="rotate(-90 682.2 301)">Efficiency (%)</text>
<line x1="366.76" y1="366.22" x2="404.64" y2="326.98" stroke="#000" stroke-width="1.15"/>
<line x1="411.66" y1="320.78" x2="449.24" y2="292.52" stroke="#000" stroke-width="1.15"/>
<line x1="457.08" y1="287.37" x2="493.82" y2="266.33" stroke="#000" stroke-width="1.15"/>
<line x1="502.46" y1="262.85" x2="537.54" y2="253.95" stroke="#000" stroke-width="1.15"/>
<line x1="367.52" y1="353.03" x2="403.88" y2="331.01" stroke="#0000ff" stroke-width="1.15" stroke-dasharray="5 4.3"/>
<line x1="411.05" y1="325.09" x2="449.85" y2="282.25" stroke="#0000ff" stroke-width="1.15" stroke-dasharray="5 4.3"/>
<line x1="456.43" y1="275.56" x2="494.47" y2="239.98" stroke="#0000ff" stroke-width="1.15" stroke-dasharray="5 4.3"/>
<line x1="500.54" y1="240.66" x2="539.46" y2="297.88" stroke="#0000ff" stroke-width="1.15" stroke-dasharray="5 4.3"/>
<line x1="368.2" y1="343.17" x2="403.2" y2="344.43" stroke="#ff0000" stroke-width="1.15" stroke-dasharray="5.6 2.4 1.3 2.5"/>
<line x1="412.45" y1="343.43" x2="448.45" y2="334.17" stroke="#ff0000" stroke-width="1.15" stroke-dasharray="5.6 2.4 1.3 2.5"/>
<line x1="455.96" y1="329.35" x2="494.94" y2="281.25" stroke="#ff0000" stroke-width="1.15" stroke-dasharray="5.6 2.4 1.3 2.5"/>
<line x1="501.51" y1="274.59" x2="538.49" y2="243.71" stroke="#ff0000" stroke-width="1.15" stroke-dasharray="5.6 2.4 1.3 2.5"/>
<line x1="367.55" y1="338.02" x2="403.85" y2="316.68" stroke="#8000ff" stroke-width="1.15"/>
<line x1="411.55" y1="311.33" x2="449.35" y2="280.57" stroke="#8000ff" stroke-width="1.15"/>
<line x1="457.08" y1="275.27" x2="493.82" y2="254.23" stroke="#8000ff" stroke-width="1.15"/>
<line x1="502.14" y1="249.87" x2="537.86" y2="232.73" stroke="#8000ff" stroke-width="1.15"/>
<rect x="360.3" y="366.4" width="6.4" height="6.4" fill="#000"/>
<rect x="404.7" y="320.4" width="6.4" height="6.4" fill="#000"/>
<rect x="449.8" y="286.5" width="6.4" height="6.4" fill="#000"/>
<rect x="494.7" y="260.8" width="6.4" height="6.4" fill="#000"/>
<rect x="538.9" y="249.6" width="6.4" height="6.4" fill="#000"/>
<polygon points="363.5,350.4 359.1,358 367.9,358" fill="#0000ff"/>
<polygon points="407.9,323.5 403.5,331.1 412.3,331.1" fill="#0000ff"/>
<polygon points="453,273.7 448.6,281.3 457.4,281.3" fill="#0000ff"/>
<polygon points="497.9,231.7 493.5,239.3 502.3,239.3" fill="#0000ff"/>
<polygon points="542.1,296.7 537.7,304.3 546.5,304.3" fill="#0000ff"/>
<polygon points="363.5,338.9 364.62,341.76 367.68,341.94 365.31,343.89 366.09,346.86 363.5,345.2 360.91,346.86 361.69,343.89 359.32,341.94 362.38,341.76" fill="#ff0000"/>
<polygon points="407.9,340.5 409.02,343.36 412.08,343.54 409.71,345.49 410.49,348.46 407.9,346.8 405.31,348.46 406.09,345.49 403.72,343.54 406.78,343.36" fill="#ff0000"/>
<polygon points="453,328.9 454.12,331.76 457.18,331.94 454.81,333.89 455.59,336.86 453,335.2 450.41,336.86 451.19,333.89 448.82,331.94 451.88,331.76" fill="#ff0000"/>
<polygon points="497.9,273.5 499.02,276.36 502.08,276.54 499.71,278.49 500.49,281.46 497.9,279.8 495.31,281.46 496.09,278.49 493.72,276.54 496.78,276.36" fill="#ff0000"/>
<polygon points="542.1,236.6 543.22,239.46 546.28,239.64 543.91,241.59 544.69,244.56 542.1,242.9 539.51,244.56 540.29,241.59 537.92,239.64 540.98,239.46" fill="#ff0000"/>
<circle cx="363.5" cy="340.4" r="3.7" fill="url(#sph)"/>
<circle cx="407.9" cy="314.3" r="3.7" fill="url(#sph)"/>
<circle cx="453" cy="277.6" r="3.7" fill="url(#sph)"/>
<circle cx="497.9" cy="251.9" r="3.7" fill="url(#sph)"/>
<circle cx="542.1" cy="230.7" r="3.7" fill="url(#sph)"/>
<line x1="451.7" y1="319.4" x2="463" y2="319.4" stroke="#000" stroke-width="1.15"/>
<line x1="472.4" y1="319.4" x2="482" y2="319.4" stroke="#000" stroke-width="1.15"/>
<rect x="464.5" y="316.2" width="6.4" height="6.4" fill="#000"/>
<text stroke="#000" stroke-width="0.15" x="489" y="323.3" font-size="11" font-style="italic">E<tspan font-size="7" font-style="normal" dy="2.5">MIR</tspan></text>
<line x1="451.7" y1="337" x2="463" y2="337" stroke="#0000ff" stroke-width="1.15" stroke-dasharray="5 4.3"/>
<line x1="472.4" y1="337" x2="482" y2="337" stroke="#0000ff" stroke-width="1.15" stroke-dasharray="5 4.3"/>
<polygon points="467.7,331.93 463.3,339.53 472.1,339.53" fill="#0000ff"/>
<text x="489" y="340.6" font-size="10.3" text-anchor="start" fill="#0000ff" stroke="#0000ff" stroke-width="0.15">Wavelength</text>
<line x1="451.7" y1="350" x2="463" y2="350" stroke="#ff0000" stroke-width="1.15" stroke-dasharray="5.6 2.4 1.3 2.5"/>
<line x1="472.4" y1="350" x2="482" y2="350" stroke="#ff0000" stroke-width="1.15" stroke-dasharray="5.6 2.4 1.3 2.5"/>
<polygon points="467.7,345.9 468.82,348.76 471.88,348.94 469.51,350.89 470.29,353.86 467.7,352.2 465.11,353.86 465.89,350.89 463.52,348.94 466.58,348.76" fill="#ff0000"/>
<text x="489" y="353.6" font-size="10.3" text-anchor="start" fill="#ff0000" stroke="#ff0000" stroke-width="0.15">Duration</text>
<line x1="451.7" y1="364.5" x2="463" y2="364.5" stroke="#8000ff" stroke-width="1.15"/>
<line x1="472.4" y1="364.5" x2="482" y2="364.5" stroke="#8000ff" stroke-width="1.15"/>
<circle cx="467.7" cy="364.5" r="3.7" fill="url(#sph)"/>
<text x="489" y="368.1" font-size="10.3" text-anchor="start" fill="#8000ff" stroke="#8000ff" stroke-width="0.15">Efficiency</text>
<path d="M546.3,448.5 H359.1 V599.2 H546.3" fill="none" stroke="#222" stroke-width="1.3"/>
<line x1="546.3" y1="447.85" x2="546.3" y2="599.85" stroke="#0000ff" stroke-width="1.3"/>
<line x1="367.7" y1="599.2" x2="367.7" y2="596.2" stroke="#222" stroke-width="1"/>
<line x1="367.7" y1="448.5" x2="367.7" y2="451.5" stroke="#222" stroke-width="1"/>
<text x="367.7" y="616.4" font-size="11.5" text-anchor="middle" fill="#000" stroke="#000" stroke-width="0.15">300</text>
<line x1="410.3" y1="599.2" x2="410.3" y2="596.2" stroke="#222" stroke-width="1"/>
<line x1="410.3" y1="448.5" x2="410.3" y2="451.5" stroke="#222" stroke-width="1"/>
<text x="410.3" y="616.4" font-size="11.5" text-anchor="middle" fill="#000" stroke="#000" stroke-width="0.15">350</text>
<line x1="453" y1="599.2" x2="453" y2="596.2" stroke="#222" stroke-width="1"/>
<line x1="453" y1="448.5" x2="453" y2="451.5" stroke="#222" stroke-width="1"/>
<text x="453" y="616.4" font-size="11.5" text-anchor="middle" fill="#000" stroke="#000" stroke-width="0.15">400</text>
<line x1="495.4" y1="599.2" x2="495.4" y2="596.2" stroke="#222" stroke-width="1"/>
<line x1="495.4" y1="448.5" x2="495.4" y2="451.5" stroke="#222" stroke-width="1"/>
<text x="495.4" y="616.4" font-size="11.5" text-anchor="middle" fill="#000" stroke="#000" stroke-width="0.15">450</text>
<line x1="538.1" y1="599.2" x2="538.1" y2="596.2" stroke="#222" stroke-width="1"/>
<line x1="538.1" y1="448.5" x2="538.1" y2="451.5" stroke="#222" stroke-width="1"/>
<text x="538.1" y="616.4" font-size="11.5" text-anchor="middle" fill="#000" stroke="#000" stroke-width="0.15">500</text>
<line x1="359.1" y1="448.9" x2="362.1" y2="448.9" stroke="#222" stroke-width="1"/>
<text x="352.5" y="453" font-size="11.5" text-anchor="end" fill="#000" stroke="#000" stroke-width="0.15">8</text>
<line x1="359.1" y1="499.1" x2="362.1" y2="499.1" stroke="#222" stroke-width="1"/>
<text x="352.5" y="503.2" font-size="11.5" text-anchor="end" fill="#000" stroke="#000" stroke-width="0.15">6</text>
<line x1="359.1" y1="549.3" x2="362.1" y2="549.3" stroke="#222" stroke-width="1"/>
<text x="352.5" y="553.4" font-size="11.5" text-anchor="end" fill="#000" stroke="#000" stroke-width="0.15">4</text>
<line x1="359.1" y1="599.5" x2="362.1" y2="599.5" stroke="#222" stroke-width="1"/>
<text x="352.5" y="603.6" font-size="11.5" text-anchor="end" fill="#000" stroke="#000" stroke-width="0.15">2</text>
<line x1="543.3" y1="468.7" x2="546.3" y2="468.7" stroke="#0000ff" stroke-width="1"/>
<text x="552.6" y="472.8" font-size="11.5" text-anchor="start" fill="#0000ff" stroke="#0000ff" stroke-width="0.15">7</text>
<line x1="543.3" y1="569.6" x2="546.3" y2="569.6" stroke="#0000ff" stroke-width="1"/>
<text x="552.6" y="573.7" font-size="11.5" text-anchor="start" fill="#0000ff" stroke="#0000ff" stroke-width="0.15">6</text>
<text stroke="#000" stroke-width="0.15" x="330.2" y="524" font-size="11.8" text-anchor="middle" transform="rotate(-90 330.2 524)"><tspan font-style="italic">E</tspan><tspan font-size="7.6" dy="2.9">MIR</tspan><tspan dy="-2.9"> (×10</tspan><tspan font-size="8.5" dy="-4.8">11</tspan><tspan dy="4.8"> V/m)</tspan></text>
<text stroke="#000" stroke-width="0.15" x="452.8" y="636" font-size="11.8" text-anchor="middle"><tspan font-style="italic">L</tspan><tspan font-size="8.5" dy="3.3">o</tspan><tspan dy="-3.3"> (μm)</tspan></text>
<line x1="596.7" y1="448.8" x2="596.7" y2="598.2" stroke="#ff0000" stroke-width="1.2"/>
<line x1="594.2" y1="448.8" x2="596.7" y2="448.8" stroke="#ff0000" stroke-width="1"/>
<text x="604.6" y="452.9" font-size="11.5" text-anchor="start" fill="#ff0000" stroke="#ff0000" stroke-width="0.15">60</text>
<line x1="594.2" y1="509" x2="596.7" y2="509" stroke="#ff0000" stroke-width="1"/>
<text x="604.6" y="513.1" font-size="11.5" text-anchor="start" fill="#ff0000" stroke="#ff0000" stroke-width="0.15">50</text>
<line x1="594.2" y1="569.5" x2="596.7" y2="569.5" stroke="#ff0000" stroke-width="1"/>
<text x="604.6" y="573.6" font-size="11.5" text-anchor="start" fill="#ff0000" stroke="#ff0000" stroke-width="0.15">40</text>
<line x1="646.7" y1="448.8" x2="646.7" y2="598.2" stroke="#8000ff" stroke-width="1.2"/>
<line x1="644.2" y1="467.3" x2="646.7" y2="467.3" stroke="#8000ff" stroke-width="1"/>
<text x="653.3" y="471.4" font-size="11.5" text-anchor="start" fill="#8000ff" stroke="#8000ff" stroke-width="0.15">2</text>
<line x1="644.2" y1="505.4" x2="646.7" y2="505.4" stroke="#8000ff" stroke-width="1"/>
<text x="653.3" y="509.5" font-size="11.5" text-anchor="start" fill="#8000ff" stroke="#8000ff" stroke-width="0.15">1</text>
<line x1="644.2" y1="543.5" x2="646.7" y2="543.5" stroke="#8000ff" stroke-width="1"/>
<text x="653.3" y="547.6" font-size="11.5" text-anchor="start" fill="#8000ff" stroke="#8000ff" stroke-width="0.15">0</text>
<line x1="644.2" y1="581.2" x2="646.7" y2="581.2" stroke="#8000ff" stroke-width="1"/>
<text x="653.3" y="585.3" font-size="11.5" text-anchor="start" fill="#8000ff" stroke="#8000ff" stroke-width="0.15">-1</text>
<text x="579.6" y="524" font-size="12" text-anchor="middle" fill="#0000ff" stroke="#0000ff" stroke-width="0.15" transform="rotate(-90 579.6 524)">W avelength (μm)</text>
<text x="637.5" y="524" font-size="11.9" text-anchor="middle" fill="#ff0000" stroke="#ff0000" stroke-width="0.15" transform="rotate(-90 637.5 524)">Duration (fs)</text>
<text x="682.2" y="524" font-size="11.9" text-anchor="middle" fill="#8000ff" stroke="#8000ff" stroke-width="0.15" transform="rotate(-90 682.2 524)">Efficiency (%)</text>
<line x1="372.39" y1="498.07" x2="405.61" y2="495.73" stroke="#000" stroke-width="1.15"/>
<line x1="415" y1="495.42" x2="448.3" y2="495.58" stroke="#000" stroke-width="1.15"/>
<line x1="457.68" y1="495.99" x2="490.72" y2="498.71" stroke="#000" stroke-width="1.15"/>
<line x1="500.04" y1="499.84" x2="533.46" y2="505.16" stroke="#000" stroke-width="1.15"/>
<line x1="371.94" y1="480.89" x2="406.06" y2="497.15" stroke="#0000ff" stroke-width="1.15" stroke-dasharray="5 4.3"/>
<line x1="415" y1="499.17" x2="448.3" y2="499.17" stroke="#0000ff" stroke-width="1.15" stroke-dasharray="5 4.3"/>
<line x1="457.25" y1="501.17" x2="491.15" y2="517.07" stroke="#0000ff" stroke-width="1.15" stroke-dasharray="5 4.3"/>
<line x1="500.1" y1="519.07" x2="533.4" y2="519.07" stroke="#0000ff" stroke-width="1.15" stroke-dasharray="5 4.3"/>
<line x1="372.4" y1="532.11" x2="405.6" y2="530.79" stroke="#ff0000" stroke-width="1.15" stroke-dasharray="5.6 2.4 1.3 2.5"/>
<line x1="415" y1="530.66" x2="448.3" y2="531.04" stroke="#ff0000" stroke-width="1.15" stroke-dasharray="5.6 2.4 1.3 2.5"/>
<line x1="457.32" y1="529.25" x2="491.08" y2="514.75" stroke="#ff0000" stroke-width="1.15" stroke-dasharray="5.6 2.4 1.3 2.5"/>
<line x1="499.87" y1="511.45" x2="533.63" y2="500.55" stroke="#ff0000" stroke-width="1.15" stroke-dasharray="5.6 2.4 1.3 2.5"/>
<line x1="372.32" y1="485.45" x2="405.68" y2="479.35" stroke="#8000ff" stroke-width="1.15"/>
<line x1="414.93" y1="477.7" x2="448.37" y2="471.9" stroke="#8000ff" stroke-width="1.15"/>
<line x1="457.69" y1="470.76" x2="490.71" y2="468.34" stroke="#8000ff" stroke-width="1.15"/>
<line x1="500.07" y1="467.5" x2="533.43" y2="463.9" stroke="#8000ff" stroke-width="1.15"/>
<rect x="364.5" y="495.2" width="6.4" height="6.4" fill="#000"/>
<rect x="407.1" y="492.2" width="6.4" height="6.4" fill="#000"/>
<rect x="449.8" y="492.4" width="6.4" height="6.4" fill="#000"/>
<rect x="492.2" y="495.9" width="6.4" height="6.4" fill="#000"/>
<rect x="534.9" y="502.7" width="6.4" height="6.4" fill="#000"/>
<polygon points="367.7,473.8 363.3,481.4 372.1,481.4" fill="#0000ff"/>
<polygon points="410.3,494.1 405.9,501.7 414.7,501.7" fill="#0000ff"/>
<polygon points="453,494.1 448.6,501.7 457.4,501.7" fill="#0000ff"/>
<polygon points="495.4,514 491,521.6 499.8,521.6" fill="#0000ff"/>
<polygon points="538.1,514 533.7,521.6 542.5,521.6" fill="#0000ff"/>
<polygon points="367.7,528.2 368.82,531.06 371.88,531.24 369.51,533.19 370.29,536.16 367.7,534.5 365.11,536.16 365.89,533.19 363.52,531.24 366.58,531.06" fill="#ff0000"/>
<polygon points="410.3,526.5 411.42,529.36 414.48,529.54 412.11,531.49 412.89,534.46 410.3,532.8 407.71,534.46 408.49,531.49 406.12,529.54 409.18,529.36" fill="#ff0000"/>
<polygon points="453,527 454.12,529.86 457.18,530.04 454.81,531.99 455.59,534.96 453,533.3 450.41,534.96 451.19,531.99 448.82,530.04 451.88,529.86" fill="#ff0000"/>
<polygon points="495.4,508.8 496.52,511.66 499.58,511.84 497.21,513.79 497.99,516.76 495.4,515.1 492.81,516.76 493.59,513.79 491.22,511.84 494.28,511.66" fill="#ff0000"/>
<polygon points="538.1,495 539.22,497.86 542.28,498.04 539.91,499.99 540.69,502.96 538.1,501.3 535.51,502.96 536.29,499.99 533.92,498.04 536.98,497.86" fill="#ff0000"/>
<circle cx="367.7" cy="486.3" r="3.7" fill="url(#sph)"/>
<circle cx="410.3" cy="478.5" r="3.7" fill="url(#sph)"/>
<circle cx="453" cy="471.1" r="3.7" fill="url(#sph)"/>
<circle cx="495.4" cy="468" r="3.7" fill="url(#sph)"/>
<circle cx="538.1" cy="463.4" r="3.7" fill="url(#sph)"/>
<line x1="449.3" y1="538.6" x2="460.1" y2="538.6" stroke="#000" stroke-width="1.15"/>
<line x1="469.5" y1="538.6" x2="478.8" y2="538.6" stroke="#000" stroke-width="1.15"/>
<rect x="461.6" y="535.4" width="6.4" height="6.4" fill="#000"/>
<text stroke="#000" stroke-width="0.15" x="486.8" y="542.5" font-size="11" font-style="italic">E<tspan font-size="7" font-style="normal" dy="2.5">MIR</tspan></text>
<line x1="449.3" y1="556.6" x2="460.1" y2="556.6" stroke="#0000ff" stroke-width="1.15" stroke-dasharray="5 4.3"/>
<line x1="469.5" y1="556.6" x2="478.8" y2="556.6" stroke="#0000ff" stroke-width="1.15" stroke-dasharray="5 4.3"/>
<polygon points="464.8,551.53 460.4,559.13 469.2,559.13" fill="#0000ff"/>
<text x="486.8" y="560.2" font-size="10.3" text-anchor="start" fill="#0000ff" stroke="#0000ff" stroke-width="0.15">Wavelength</text>
<line x1="449.3" y1="569.6" x2="460.1" y2="569.6" stroke="#ff0000" stroke-width="1.15" stroke-dasharray="5.6 2.4 1.3 2.5"/>
<line x1="469.5" y1="569.6" x2="478.8" y2="569.6" stroke="#ff0000" stroke-width="1.15" stroke-dasharray="5.6 2.4 1.3 2.5"/>
<polygon points="464.8,565.5 465.92,568.36 468.98,568.54 466.61,570.49 467.39,573.46 464.8,571.8 462.21,573.46 462.99,570.49 460.62,568.54 463.68,568.36" fill="#ff0000"/>
<text x="486.8" y="573.2" font-size="10.3" text-anchor="start" fill="#ff0000" stroke="#ff0000" stroke-width="0.15">Duration</text>
<line x1="449.3" y1="586.5" x2="460.1" y2="586.5" stroke="#8000ff" stroke-width="1.15"/>
<line x1="469.5" y1="586.5" x2="478.8" y2="586.5" stroke="#8000ff" stroke-width="1.15"/>
<circle cx="464.8" cy="586.5" r="3.7" fill="url(#sph)"/>
<text x="486.8" y="590.1" font-size="10.3" text-anchor="start" fill="#8000ff" stroke="#8000ff" stroke-width="0.15">Efficiency</text>
<path d="M545.3,669 H359.1 V818.8 H545.3" fill="none" stroke="#222" stroke-width="1.3"/>
<line x1="545.3" y1="668.35" x2="545.3" y2="819.45" stroke="#0000ff" stroke-width="1.3"/>
<line x1="364.7" y1="818.8" x2="364.7" y2="815.8" stroke="#222" stroke-width="1"/>
<line x1="364.7" y1="669" x2="364.7" y2="672" stroke="#222" stroke-width="1"/>
<text x="364.7" y="835" font-size="11.5" text-anchor="middle" fill="#000" stroke="#000" stroke-width="0.15">2</text>
<line x1="423.3" y1="818.8" x2="423.3" y2="815.8" stroke="#222" stroke-width="1"/>
<line x1="423.3" y1="669" x2="423.3" y2="672" stroke="#222" stroke-width="1"/>
<text x="423.3" y="835" font-size="11.5" text-anchor="middle" fill="#000" stroke="#000" stroke-width="0.15">3</text>
<line x1="481.6" y1="818.8" x2="481.6" y2="815.8" stroke="#222" stroke-width="1"/>
<line x1="481.6" y1="669" x2="481.6" y2="672" stroke="#222" stroke-width="1"/>
<text x="481.6" y="835" font-size="11.5" text-anchor="middle" fill="#000" stroke="#000" stroke-width="0.15">4</text>
<line x1="539.6" y1="818.8" x2="539.6" y2="815.8" stroke="#222" stroke-width="1"/>
<line x1="539.6" y1="669" x2="539.6" y2="672" stroke="#222" stroke-width="1"/>
<text x="539.6" y="835" font-size="11.5" text-anchor="middle" fill="#000" stroke="#000" stroke-width="0.15">5</text>
<line x1="359.1" y1="669" x2="362.1" y2="669" stroke="#222" stroke-width="1"/>
<text x="352.5" y="673.1" font-size="11.5" text-anchor="end" fill="#000" stroke="#000" stroke-width="0.15">10</text>
<line x1="359.1" y1="702.4" x2="362.1" y2="702.4" stroke="#222" stroke-width="1"/>
<text x="352.5" y="706.5" font-size="11.5" text-anchor="end" fill="#000" stroke="#000" stroke-width="0.15">8</text>
<line x1="359.1" y1="735.6" x2="362.1" y2="735.6" stroke="#222" stroke-width="1"/>
<text x="352.5" y="739.7" font-size="11.5" text-anchor="end" fill="#000" stroke="#000" stroke-width="0.15">6</text>
<line x1="359.1" y1="769" x2="362.1" y2="769" stroke="#222" stroke-width="1"/>
<text x="352.5" y="773.1" font-size="11.5" text-anchor="end" fill="#000" stroke="#000" stroke-width="0.15">4</text>
<line x1="359.1" y1="802.2" x2="362.1" y2="802.2" stroke="#222" stroke-width="1"/>
<text x="352.5" y="806.3" font-size="11.5" text-anchor="end" fill="#000" stroke="#000" stroke-width="0.15">2</text>
<line x1="542.3" y1="669.5" x2="545.3" y2="669.5" stroke="#0000ff" stroke-width="1"/>
<text x="552.8" y="673.6" font-size="11.5" text-anchor="start" fill="#0000ff" stroke="#0000ff" stroke-width="0.15">15</text>
<line x1="542.3" y1="703.4" x2="545.3" y2="703.4" stroke="#0000ff" stroke-width="1"/>
<text x="552.8" y="707.5" font-size="11.5" text-anchor="start" fill="#0000ff" stroke="#0000ff" stroke-width="0.15">12</text>
<line x1="542.3" y1="737.9" x2="545.3" y2="737.9" stroke="#0000ff" stroke-width="1"/>
<text x="552.8" y="742" font-size="11.5" text-anchor="start" fill="#0000ff" stroke="#0000ff" stroke-width="0.15">9</text>
<line x1="542.3" y1="773" x2="545.3" y2="773" stroke="#0000ff" stroke-width="1"/>
<text x="552.8" y="777.1" font-size="11.5" text-anchor="start" fill="#0000ff" stroke="#0000ff" stroke-width="0.15">6</text>
<line x1="542.3" y1="806.8" x2="545.3" y2="806.8" stroke="#0000ff" stroke-width="1"/>
<text x="552.8" y="810.9" font-size="11.5" text-anchor="start" fill="#0000ff" stroke="#0000ff" stroke-width="0.15">3</text>
<text stroke="#000" stroke-width="0.15" x="327.4" y="743" font-size="11.8" text-anchor="middle" transform="rotate(-90 327.4 743)"><tspan font-style="italic">E</tspan><tspan font-size="7.6" dy="2.9">MIR</tspan><tspan dy="-2.9"> (×10</tspan><tspan font-size="8.5" dy="-4.8">11</tspan><tspan dy="4.8"> V/m)</tspan></text>
<text stroke="#000" stroke-width="0.15" x="453" y="852.8" font-size="11.8" text-anchor="middle"><tspan font-style="italic" font-size="12.4">a</tspan><tspan font-size="7" dy="4.3">L</tspan></text>
<line x1="597.3" y1="667.5" x2="597.3" y2="816.7" stroke="#ff0000" stroke-width="1.2"/>
<line x1="594.8" y1="679.2" x2="597.3" y2="679.2" stroke="#ff0000" stroke-width="1"/>
<text x="604" y="683.3" font-size="11.5" text-anchor="start" fill="#ff0000" stroke="#ff0000" stroke-width="0.15">80</text>
<line x1="594.8" y1="729.4" x2="597.3" y2="729.4" stroke="#ff0000" stroke-width="1"/>
<text x="604" y="733.5" font-size="11.5" text-anchor="start" fill="#ff0000" stroke="#ff0000" stroke-width="0.15">60</text>
<line x1="594.8" y1="779.4" x2="597.3" y2="779.4" stroke="#ff0000" stroke-width="1"/>
<text x="604" y="783.5" font-size="11.5" text-anchor="start" fill="#ff0000" stroke="#ff0000" stroke-width="0.15">40</text>
<line x1="645.9" y1="667.5" x2="645.9" y2="816.7" stroke="#8000ff" stroke-width="1.2"/>
<line x1="643.4" y1="688.3" x2="645.9" y2="688.3" stroke="#8000ff" stroke-width="1"/>
<text x="653.3" y="692.4" font-size="11.5" text-anchor="start" fill="#8000ff" stroke="#8000ff" stroke-width="0.15">2</text>
<line x1="643.4" y1="760.1" x2="645.9" y2="760.1" stroke="#8000ff" stroke-width="1"/>
<text x="653.3" y="764.2" font-size="11.5" text-anchor="start" fill="#8000ff" stroke="#8000ff" stroke-width="0.15">1</text>
<text x="583.2" y="743.5" font-size="12" text-anchor="middle" fill="#0000ff" stroke="#0000ff" stroke-width="0.15" transform="rotate(-90 583.2 743.5)">W avelength (μm)</text>
<text x="637.5" y="743.5" font-size="11.9" text-anchor="middle" fill="#ff0000" stroke="#ff0000" stroke-width="0.15" transform="rotate(-90 637.5 743.5)">Duration (fs)</text>
<text x="682.2" y="743.5" font-size="11.9" text-anchor="middle" fill="#8000ff" stroke="#8000ff" stroke-width="0.15" transform="rotate(-90 682.2 743.5)">Efficiency (%)</text>
<line x1="367.73" y1="799.7" x2="420.27" y2="737.3" stroke="#000" stroke-width="1.15"/>
<line x1="428" y1="733.72" x2="476.9" y2="733.98" stroke="#000" stroke-width="1.15"/>
<line x1="484.86" y1="730.61" x2="536.34" y2="676.99" stroke="#000" stroke-width="1.15"/>
<line x1="368.4" y1="808.17" x2="419.6" y2="767.97" stroke="#0000ff" stroke-width="1.15" stroke-dasharray="5 4.3"/>
<line x1="426.84" y1="761.98" x2="478.06" y2="717.26" stroke="#0000ff" stroke-width="1.15" stroke-dasharray="5 4.3"/>
<line x1="485.82" y1="712.1" x2="535.38" y2="687.84" stroke="#0000ff" stroke-width="1.15" stroke-dasharray="5 4.3"/>
<line x1="368.33" y1="810.42" x2="419.67" y2="768.28" stroke="#ff0000" stroke-width="1.15" stroke-dasharray="5.6 2.4 1.3 2.5"/>
<line x1="425.83" y1="761.34" x2="479.07" y2="678.16" stroke="#ff0000" stroke-width="1.15" stroke-dasharray="5.6 2.4 1.3 2.5"/>
<line x1="486.28" y1="674.58" x2="534.92" y2="678.52" stroke="#ff0000" stroke-width="1.15" stroke-dasharray="5.6 2.4 1.3 2.5"/>
<line x1="366.96" y1="800.68" x2="421.04" y2="701.82" stroke="#8000ff" stroke-width="1.15"/>
<line x1="428" y1="697.7" x2="476.9" y2="697.7" stroke="#8000ff" stroke-width="1.15"/>
<line x1="486.29" y1="697.98" x2="534.91" y2="700.92" stroke="#8000ff" stroke-width="1.15"/>
<rect x="361.5" y="800.1" width="6.4" height="6.4" fill="#000"/>
<rect x="420.1" y="730.5" width="6.4" height="6.4" fill="#000"/>
<rect x="478.4" y="730.8" width="6.4" height="6.4" fill="#000"/>
<rect x="536.4" y="670.4" width="6.4" height="6.4" fill="#000"/>
<polygon points="364.7,806 360.3,813.6 369.1,813.6" fill="#0000ff"/>
<polygon points="423.3,760 418.9,767.6 427.7,767.6" fill="#0000ff"/>
<polygon points="481.6,709.1 477.2,716.7 486,716.7" fill="#0000ff"/>
<polygon points="539.6,680.7 535.2,688.3 544,688.3" fill="#0000ff"/>
<polygon points="364.7,809.3 365.82,812.16 368.88,812.34 366.51,814.29 367.29,817.26 364.7,815.6 362.11,817.26 362.89,814.29 360.52,812.34 363.58,812.16" fill="#ff0000"/>
<polygon points="423.3,761.2 424.42,764.06 427.48,764.24 425.11,766.19 425.89,769.16 423.3,767.5 420.71,769.16 421.49,766.19 419.12,764.24 422.18,764.06" fill="#ff0000"/>
<polygon points="481.6,670.1 482.72,672.96 485.78,673.14 483.41,675.09 484.19,678.06 481.6,676.4 479.01,678.06 479.79,675.09 477.42,673.14 480.48,672.96" fill="#ff0000"/>
<polygon points="539.6,674.8 540.72,677.66 543.78,677.84 541.41,679.79 542.19,682.76 539.6,681.1 537.01,682.76 537.79,679.79 535.42,677.84 538.48,677.66" fill="#ff0000"/>
<circle cx="364.7" cy="804.8" r="3.7" fill="url(#sph)"/>
<circle cx="423.3" cy="697.7" r="3.7" fill="url(#sph)"/>
<circle cx="481.6" cy="697.7" r="3.7" fill="url(#sph)"/>
<circle cx="539.6" cy="701.2" r="3.7" fill="url(#sph)"/>
<line x1="450.5" y1="762" x2="462.5" y2="762" stroke="#000" stroke-width="1.15"/>
<line x1="471.9" y1="762" x2="480.9" y2="762" stroke="#000" stroke-width="1.15"/>
<rect x="464" y="758.8" width="6.4" height="6.4" fill="#000"/>
<text stroke="#000" stroke-width="0.15" x="488.6" y="765.9" font-size="11" font-style="italic">E<tspan font-size="7" font-style="normal" dy="2.5">MIR</tspan></text>
<line x1="450.5" y1="779.1" x2="462.5" y2="779.1" stroke="#0000ff" stroke-width="1.15" stroke-dasharray="5 4.3"/>
<line x1="471.9" y1="779.1" x2="480.9" y2="779.1" stroke="#0000ff" stroke-width="1.15" stroke-dasharray="5 4.3"/>
<polygon points="467.2,774.03 462.8,781.63 471.6,781.63" fill="#0000ff"/>
<text x="488.6" y="782.7" font-size="10.3" text-anchor="start" fill="#0000ff" stroke="#0000ff" stroke-width="0.15">Wavelength</text>
<line x1="450.5" y1="792.4" x2="462.5" y2="792.4" stroke="#ff0000" stroke-width="1.15" stroke-dasharray="5.6 2.4 1.3 2.5"/>
<line x1="471.9" y1="792.4" x2="480.9" y2="792.4" stroke="#ff0000" stroke-width="1.15" stroke-dasharray="5.6 2.4 1.3 2.5"/>
<polygon points="467.2,788.3 468.32,791.16 471.38,791.34 469.01,793.29 469.79,796.26 467.2,794.6 464.61,796.26 465.39,793.29 463.02,791.34 466.08,791.16" fill="#ff0000"/>
<text x="488.6" y="796" font-size="10.3" text-anchor="start" fill="#ff0000" stroke="#ff0000" stroke-width="0.15">Duration</text>
<line x1="450.5" y1="806.8" x2="462.5" y2="806.8" stroke="#8000ff" stroke-width="1.15"/>
<line x1="471.9" y1="806.8" x2="480.9" y2="806.8" stroke="#8000ff" stroke-width="1.15"/>
<circle cx="467.2" cy="806.8" r="3.7" fill="url(#sph)"/>
<text x="488.6" y="810.4" font-size="10.3" text-anchor="start" fill="#8000ff" stroke="#8000ff" stroke-width="0.15">Efficiency</text>
</g></svg>
</body></html>
